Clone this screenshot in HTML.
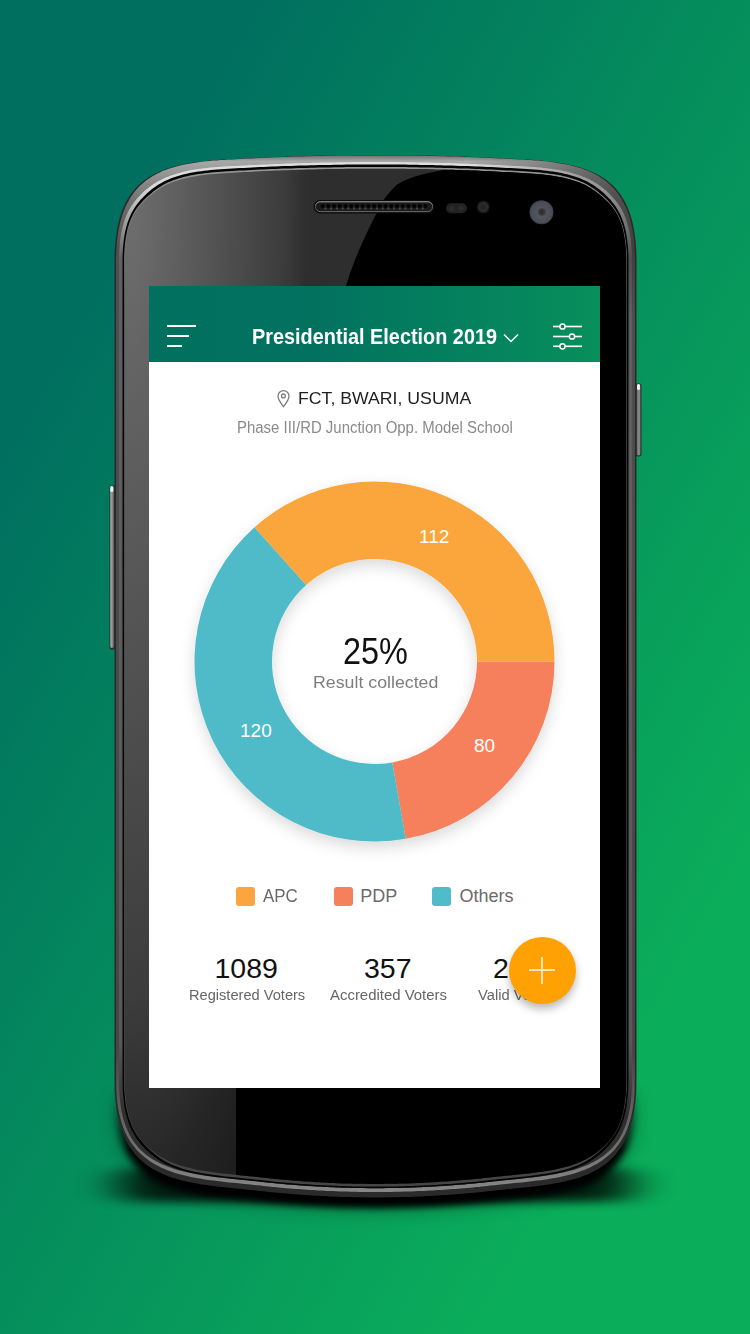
<!DOCTYPE html>
<html>
<head>
<meta charset="utf-8">
<style>
*{margin:0;padding:0;box-sizing:border-box;}
html,body{width:750px;height:1334px;overflow:hidden;}
body{position:relative;background:linear-gradient(to bottom right,#006f5f 17%,#0aad5a 82%);font-family:"Liberation Sans",sans-serif;}
.abs{position:absolute;}
#phone{position:absolute;left:0;top:0;width:750px;height:1334px;}
#screen{position:absolute;left:149px;top:286px;width:451px;height:802px;background:#fff;overflow:hidden;}
#hdr{position:absolute;left:0;top:0;width:451px;height:76px;background:linear-gradient(to right,#01705f 0%,#02725f 38%,#078f5c 100%);}
.t{position:absolute;white-space:nowrap;line-height:1;}
</style>
</head>
<body>
<svg id="phone" width="750" height="1334" viewBox="0 0 750 1334">
  <defs>
    <filter id="sh" x="-20%" y="-20%" width="140%" height="140%"><feGaussianBlur stdDeviation="10"/></filter>
    <filter id="sh3" x="-20%" y="-100%" width="140%" height="300%"><feGaussianBlur stdDeviation="22 5"/></filter>
    <filter id="sh2" x="-20%" y="-20%" width="140%" height="140%"><feGaussianBlur stdDeviation="3.5"/></filter>
    <linearGradient id="g1" gradientUnits="userSpaceOnUse" x1="0" y1="155" x2="0" y2="1198">
      <stop offset="0" stop-color="#6a6a6a"/>
      <stop offset="0.006" stop-color="#a8a8a8"/>
      <stop offset="0.025" stop-color="#8a8a8a"/>
      <stop offset="0.045" stop-color="#707070"/>
      <stop offset="0.09" stop-color="#505050"/>
      <stop offset="0.86" stop-color="#474747"/>
      <stop offset="0.93" stop-color="#666"/>
      <stop offset="1" stop-color="#8a8a8a"/>
    </linearGradient>
    <linearGradient id="g2" gradientUnits="userSpaceOnUse" x1="0" y1="155" x2="0" y2="1198">
      <stop offset="0" stop-color="#e0e0e0"/>
      <stop offset="0.03" stop-color="#dadada"/>
      <stop offset="0.055" stop-color="#b0b0b0"/>
      <stop offset="0.1" stop-color="#606060"/>
      <stop offset="0.85" stop-color="#585858"/>
      <stop offset="0.92" stop-color="#2e2e2e"/>
      <stop offset="1" stop-color="#2e2e2e"/>
    </linearGradient>
    <linearGradient id="g3" gradientUnits="userSpaceOnUse" x1="0" y1="155" x2="0" y2="1198">
      <stop offset="0" stop-color="#9a9a9a"/>
      <stop offset="0.043" stop-color="#8a8a8a"/>
      <stop offset="0.14" stop-color="#5a5a5a"/>
      <stop offset="0.9" stop-color="#4a4a4a"/>
      <stop offset="1" stop-color="#444"/>
    </linearGradient>
    <radialGradient id="glass" gradientUnits="userSpaceOnUse" cx="130" cy="200" r="1100" gradientTransform="matrix(0.1923 0 0 1 105 0)">
      <stop offset="0" stop-color="#6e6e6e"/>
      <stop offset="0.091" stop-color="#686868"/>
      <stop offset="0.473" stop-color="#4e4e4e"/>
      <stop offset="0.727" stop-color="#3c3c3c"/>
      <stop offset="0.896" stop-color="#262626"/>
      <stop offset="1" stop-color="#1e1e1e"/>
    </radialGradient>
    <linearGradient id="spk" x1="0" y1="0" x2="0" y2="1"><stop offset="0" stop-color="#a8a8a8"/><stop offset="0.5" stop-color="#5a5a5a"/><stop offset="1" stop-color="#6a6a6a"/></linearGradient>
    <linearGradient id="shm" gradientUnits="userSpaceOnUse" x1="0" y1="1085" x2="0" y2="1150"><stop offset="0" stop-color="#000"/><stop offset="1" stop-color="#fff"/></linearGradient>
    <mask id="shmask" maskUnits="userSpaceOnUse" x="0" y="0" width="750" height="1334"><rect x="0" y="0" width="750" height="1334" fill="url(#shm)"/></mask>
    <linearGradient id="btnL" x1="0" y1="0" x2="1" y2="0"><stop offset="0" stop-color="#7a7a7a"/><stop offset="0.4" stop-color="#9a9a9a"/><stop offset="1" stop-color="#6a6a6a"/></linearGradient>
    <linearGradient id="btnR" x1="0" y1="0" x2="1" y2="0"><stop offset="0" stop-color="#6a6a6a"/><stop offset="0.6" stop-color="#8e8e8e"/><stop offset="1" stop-color="#6a6a6a"/></linearGradient>
    <linearGradient id="trgrad" gradientUnits="userSpaceOnUse" x1="470" y1="0" x2="640" y2="0"><stop offset="0" stop-color="#000" stop-opacity="0"/><stop offset="1" stop-color="#000" stop-opacity="0.45"/></linearGradient>
    <linearGradient id="trm" gradientUnits="userSpaceOnUse" x1="0" y1="170" x2="0" y2="320"><stop offset="0" stop-color="#fff"/><stop offset="1" stop-color="#000"/></linearGradient>
    <mask id="trmask" maskUnits="userSpaceOnUse" x="0" y="0" width="750" height="1334"><rect x="0" y="0" width="750" height="1334" fill="url(#trm)"/></mask>
    <radialGradient id="cam" cx="0.5" cy="0.55" r="0.55"><stop offset="0" stop-color="#555a62"/><stop offset="1" stop-color="#484c54"/></radialGradient>
    <clipPath id="gclip"><path d="M124.8 262.0 L124.8 258.2 L124.9 254.4 L125.1 250.8 L125.4 247.3 L125.7 244.0 L126.1 240.7 L126.5 237.5 L127.1 234.5 L127.7 231.6 L128.4 228.8 L129.1 226.1 L129.9 223.5 L130.8 221.0 L131.8 218.7 L132.8 216.4 L133.9 214.3 L135.1 212.3 L136.3 210.4 L137.5 208.7 L138.8 207.0 L140.0 205.4 L141.3 203.9 L142.7 202.5 L144.0 201.2 L145.3 199.9 L146.7 198.7 L148.0 197.5 L149.3 196.3 L150.7 195.2 L152.1 194.0 L153.5 192.9 L155.0 191.8 L156.5 190.7 L158.0 189.7 L159.7 188.6 L161.3 187.6 L163.1 186.6 L164.9 185.6 L166.8 184.6 L168.8 183.7 L170.9 182.8 L173.0 182.0 L175.3 181.2 L177.6 180.4 L179.9 179.7 L182.4 179.0 L184.9 178.4 L187.5 177.8 L190.2 177.2 L193.0 176.7 L195.8 176.2 L198.7 175.7 L201.7 175.3 L204.7 174.9 L207.8 174.6 L211.0 174.2 L214.2 173.9 L217.5 173.7 L220.9 173.4 L224.7 173.2 L228.7 172.9 L232.6 172.7 L236.5 172.5 L240.4 172.3 L244.3 172.1 L248.2 171.9 L252.2 171.7 L256.1 171.5 L260.0 171.3 L263.9 171.1 L267.8 171.0 L271.7 170.8 L275.7 170.6 L279.6 170.5 L283.5 170.3 L287.4 170.2 L291.3 170.1 L295.2 169.9 L299.1 169.8 L303.1 169.7 L307.0 169.6 L310.9 169.5 L314.8 169.4 L318.7 169.3 L322.6 169.2 L326.6 169.1 L330.5 169.1 L334.4 169.0 L338.3 168.9 L342.2 168.9 L346.1 168.8 L350.0 168.8 L354.0 168.7 L357.9 168.7 L361.8 168.7 L365.7 168.7 L369.6 168.7 L373.5 168.7 L377.5 168.7 L381.4 168.7 L385.3 168.7 L389.2 168.7 L393.1 168.7 L397.0 168.7 L401.0 168.8 L404.9 168.8 L408.8 168.9 L412.7 168.9 L416.6 169.0 L420.5 169.1 L424.4 169.1 L428.4 169.2 L432.3 169.3 L436.2 169.4 L440.1 169.5 L444.0 169.6 L447.9 169.7 L451.9 169.8 L455.8 169.9 L459.7 170.1 L463.6 170.2 L467.5 170.3 L471.4 170.5 L475.3 170.6 L479.3 170.8 L483.2 171.0 L487.1 171.1 L491.0 171.3 L494.9 171.5 L498.8 171.7 L502.8 171.9 L506.7 172.1 L510.6 172.3 L514.5 172.5 L518.4 172.7 L522.3 172.9 L526.3 173.2 L530.1 173.4 L533.5 173.7 L536.8 173.9 L540.0 174.2 L543.2 174.6 L546.3 174.9 L549.3 175.3 L552.3 175.7 L555.2 176.2 L558.0 176.7 L560.8 177.2 L563.5 177.8 L566.1 178.4 L568.6 179.0 L571.1 179.7 L573.4 180.4 L575.7 181.2 L578.0 182.0 L580.1 182.8 L582.2 183.7 L584.2 184.6 L586.1 185.6 L587.9 186.6 L589.7 187.6 L591.3 188.6 L593.0 189.7 L594.5 190.7 L596.0 191.8 L597.5 192.9 L598.9 194.0 L600.3 195.2 L601.7 196.3 L603.0 197.5 L604.3 198.7 L605.7 199.9 L607.0 201.2 L608.3 202.5 L609.7 203.9 L611.0 205.4 L612.2 207.0 L613.5 208.7 L614.7 210.4 L615.9 212.3 L617.1 214.3 L618.2 216.4 L619.2 218.7 L620.2 221.0 L621.1 223.5 L621.9 226.1 L622.6 228.8 L623.3 231.6 L623.9 234.5 L624.5 237.5 L624.9 240.7 L625.3 244.0 L625.6 247.3 L625.9 250.8 L626.1 254.4 L626.2 258.2 L626.2 262.0 L626.2 671.0 L626.2 1080.0 L626.1 1085.0 L626.0 1089.8 L625.7 1094.5 L625.2 1098.9 L624.7 1103.1 L624.0 1107.2 L623.3 1111.0 L622.4 1114.7 L621.4 1118.2 L620.3 1121.5 L619.1 1124.6 L617.8 1127.5 L616.4 1130.3 L614.9 1132.8 L613.4 1135.2 L611.8 1137.5 L610.2 1139.6 L608.6 1141.5 L606.9 1143.3 L605.2 1145.1 L603.4 1146.7 L601.7 1148.3 L599.9 1149.8 L598.1 1151.3 L596.3 1152.7 L594.3 1154.1 L592.4 1155.4 L590.3 1156.7 L588.2 1158.0 L586.0 1159.2 L583.7 1160.3 L581.4 1161.5 L578.9 1162.5 L576.3 1163.5 L573.7 1164.5 L571.0 1165.4 L568.2 1166.3 L565.3 1167.1 L562.3 1167.8 L559.2 1168.6 L556.1 1169.2 L552.9 1169.9 L549.6 1170.5 L546.3 1171.0 L542.9 1171.5 L539.4 1172.0 L535.9 1172.5 L532.3 1173.0 L528.6 1173.4 L524.9 1173.8 L521.2 1174.2 L517.4 1174.6 L513.5 1175.0 L509.6 1175.4 L505.7 1175.8 L501.7 1176.2 L497.7 1176.6 L493.6 1177.1 L489.5 1177.5 L486.6 1177.8 L483.7 1178.1 L480.8 1178.4 L478.0 1178.7 L475.1 1179.0 L472.2 1179.3 L469.3 1179.6 L466.4 1179.8 L463.5 1180.1 L460.6 1180.3 L457.8 1180.6 L454.9 1180.8 L452.0 1181.0 L449.1 1181.2 L446.2 1181.4 L443.3 1181.6 L440.4 1181.8 L437.6 1182.0 L434.7 1182.2 L431.8 1182.3 L428.9 1182.5 L426.0 1182.6 L423.1 1182.8 L420.2 1182.9 L417.3 1183.0 L414.5 1183.2 L411.6 1183.3 L408.7 1183.4 L405.8 1183.4 L402.9 1183.5 L400.0 1183.6 L397.1 1183.7 L394.3 1183.7 L391.4 1183.8 L388.5 1183.8 L385.6 1183.8 L382.7 1183.9 L379.8 1183.9 L376.9 1183.9 L374.1 1183.9 L371.2 1183.9 L368.3 1183.9 L365.4 1183.8 L362.5 1183.8 L359.6 1183.8 L356.7 1183.7 L353.9 1183.7 L351.0 1183.6 L348.1 1183.5 L345.2 1183.4 L342.3 1183.4 L339.4 1183.3 L336.5 1183.2 L333.7 1183.0 L330.8 1182.9 L327.9 1182.8 L325.0 1182.6 L322.1 1182.5 L319.2 1182.3 L316.3 1182.2 L313.4 1182.0 L310.6 1181.8 L307.7 1181.6 L304.8 1181.4 L301.9 1181.2 L299.0 1181.0 L296.1 1180.8 L293.2 1180.6 L290.4 1180.3 L287.5 1180.1 L284.6 1179.8 L281.7 1179.6 L278.8 1179.3 L275.9 1179.0 L273.0 1178.7 L270.2 1178.4 L267.3 1178.1 L264.4 1177.8 L261.5 1177.5 L257.4 1177.1 L253.3 1176.6 L249.3 1176.2 L245.3 1175.8 L241.4 1175.4 L237.5 1175.0 L233.6 1174.6 L229.8 1174.2 L226.1 1173.8 L222.4 1173.4 L218.7 1173.0 L215.1 1172.5 L211.6 1172.0 L208.1 1171.5 L204.7 1171.0 L201.4 1170.5 L198.1 1169.9 L194.9 1169.2 L191.8 1168.6 L188.7 1167.8 L185.7 1167.1 L182.8 1166.3 L180.0 1165.4 L177.3 1164.5 L174.7 1163.5 L172.1 1162.5 L169.6 1161.5 L167.3 1160.3 L165.0 1159.2 L162.8 1158.0 L160.7 1156.7 L158.6 1155.4 L156.7 1154.1 L154.7 1152.7 L152.9 1151.3 L151.1 1149.8 L149.3 1148.3 L147.6 1146.7 L145.8 1145.1 L144.1 1143.3 L142.4 1141.5 L140.8 1139.6 L139.2 1137.5 L137.6 1135.2 L136.1 1132.8 L134.6 1130.3 L133.2 1127.5 L131.9 1124.6 L130.7 1121.5 L129.6 1118.2 L128.6 1114.7 L127.7 1111.0 L127.0 1107.2 L126.3 1103.1 L125.8 1098.9 L125.3 1094.5 L125.0 1089.8 L124.9 1085.0 L124.8 1080.0 L124.8 671.0Z"/></clipPath>
  </defs>
  <!-- shadow -->
  <g mask="url(#shmask)"><path d="M114.5 262.0 L114.5 258.0 L114.6 254.1 L114.8 250.3 L115.0 246.6 L115.3 243.0 L115.6 239.6 L116.0 236.2 L116.5 232.9 L117.0 229.7 L117.6 226.6 L118.3 223.6 L119.0 220.6 L119.8 217.8 L120.6 215.1 L121.5 212.4 L122.5 209.8 L123.5 207.3 L124.6 204.9 L125.7 202.6 L126.9 200.4 L128.2 198.2 L129.5 196.1 L130.9 194.1 L132.3 192.2 L133.9 190.3 L135.4 188.5 L137.0 186.8 L138.7 185.1 L140.5 183.5 L142.3 182.0 L144.1 180.5 L146.1 179.1 L148.1 177.8 L150.1 176.5 L152.2 175.3 L154.4 174.1 L156.6 173.0 L158.9 172.0 L161.2 171.0 L163.6 170.0 L166.0 169.1 L168.5 168.2 L171.1 167.4 L173.7 166.7 L176.4 166.0 L179.2 165.3 L182.0 164.7 L184.8 164.1 L187.7 163.5 L190.7 163.0 L193.7 162.5 L196.8 162.1 L200.0 161.7 L203.2 161.3 L206.4 160.9 L209.7 160.6 L213.1 160.3 L216.5 160.0 L220.0 159.8 L223.9 159.6 L227.9 159.3 L231.8 159.1 L235.7 158.9 L239.7 158.7 L243.6 158.5 L247.6 158.3 L251.5 158.1 L255.4 157.9 L259.4 157.7 L263.3 157.5 L267.2 157.4 L271.2 157.2 L275.1 157.0 L279.1 156.9 L283.0 156.7 L286.9 156.6 L290.9 156.5 L294.8 156.3 L298.7 156.2 L302.7 156.1 L306.6 156.0 L310.5 155.9 L314.5 155.8 L318.4 155.7 L322.4 155.6 L326.3 155.5 L330.2 155.5 L334.2 155.4 L338.1 155.3 L342.0 155.3 L346.0 155.2 L349.9 155.2 L353.8 155.1 L357.8 155.1 L361.7 155.1 L365.7 155.1 L369.6 155.1 L373.5 155.1 L377.5 155.1 L381.4 155.1 L385.3 155.1 L389.3 155.1 L393.2 155.1 L397.2 155.1 L401.1 155.2 L405.0 155.2 L409.0 155.3 L412.9 155.3 L416.8 155.4 L420.8 155.5 L424.7 155.5 L428.6 155.6 L432.6 155.7 L436.5 155.8 L440.5 155.9 L444.4 156.0 L448.3 156.1 L452.3 156.2 L456.2 156.3 L460.1 156.5 L464.1 156.6 L468.0 156.7 L471.9 156.9 L475.9 157.0 L479.8 157.2 L483.8 157.4 L487.7 157.5 L491.6 157.7 L495.6 157.9 L499.5 158.1 L503.4 158.3 L507.4 158.5 L511.3 158.7 L515.3 158.9 L519.2 159.1 L523.1 159.3 L527.1 159.6 L531.0 159.8 L534.5 160.0 L537.9 160.3 L541.3 160.6 L544.6 160.9 L547.8 161.3 L551.0 161.7 L554.2 162.1 L557.3 162.5 L560.3 163.0 L563.3 163.5 L566.2 164.1 L569.0 164.7 L571.8 165.3 L574.6 166.0 L577.3 166.7 L579.9 167.4 L582.5 168.2 L585.0 169.1 L587.4 170.0 L589.8 171.0 L592.1 172.0 L594.4 173.0 L596.6 174.1 L598.8 175.3 L600.9 176.5 L602.9 177.8 L604.9 179.1 L606.9 180.5 L608.7 182.0 L610.5 183.5 L612.3 185.1 L614.0 186.8 L615.6 188.5 L617.1 190.3 L618.7 192.2 L620.1 194.1 L621.5 196.1 L622.8 198.2 L624.1 200.4 L625.3 202.6 L626.4 204.9 L627.5 207.3 L628.5 209.8 L629.5 212.4 L630.4 215.1 L631.2 217.8 L632.0 220.6 L632.7 223.6 L633.4 226.6 L634.0 229.7 L634.5 232.9 L635.0 236.2 L635.4 239.6 L635.7 243.0 L636.0 246.6 L636.2 250.3 L636.4 254.1 L636.5 258.0 L636.5 262.0 L636.5 671.0 L636.5 1080.0 L636.4 1085.2 L636.3 1090.3 L636.0 1095.2 L635.6 1099.9 L635.1 1104.4 L634.5 1108.8 L633.8 1113.0 L633.0 1117.0 L632.1 1120.9 L631.1 1124.6 L630.0 1128.2 L628.8 1131.6 L627.5 1134.9 L626.1 1138.0 L624.6 1141.0 L623.1 1143.9 L621.4 1146.7 L619.7 1149.3 L617.8 1151.8 L615.9 1154.2 L613.9 1156.4 L611.8 1158.6 L609.7 1160.6 L607.4 1162.5 L605.1 1164.4 L602.7 1166.1 L600.2 1167.8 L597.7 1169.3 L595.1 1170.8 L592.4 1172.1 L589.6 1173.4 L586.8 1174.7 L584.0 1175.8 L581.0 1176.9 L578.0 1177.9 L574.9 1178.8 L571.8 1179.7 L568.6 1180.5 L565.4 1181.3 L562.1 1182.0 L558.7 1182.7 L555.3 1183.3 L551.9 1183.9 L548.4 1184.5 L544.8 1185.0 L541.2 1185.5 L537.6 1186.0 L533.9 1186.5 L530.2 1186.9 L526.4 1187.3 L522.6 1187.7 L518.8 1188.1 L514.9 1188.5 L511.0 1188.9 L507.1 1189.3 L503.1 1189.7 L499.1 1190.1 L495.1 1190.6 L491.0 1191.0 L488.1 1191.3 L485.2 1191.6 L482.2 1191.9 L479.3 1192.2 L476.4 1192.5 L473.5 1192.8 L470.5 1193.1 L467.6 1193.3 L464.7 1193.6 L461.8 1193.8 L458.8 1194.1 L455.9 1194.3 L453.0 1194.5 L450.1 1194.7 L447.1 1194.9 L444.2 1195.1 L441.3 1195.3 L438.4 1195.5 L435.4 1195.7 L432.5 1195.8 L429.6 1196.0 L426.7 1196.1 L423.7 1196.3 L420.8 1196.4 L417.9 1196.5 L415.0 1196.7 L412.1 1196.8 L409.1 1196.9 L406.2 1196.9 L403.3 1197.0 L400.4 1197.1 L397.4 1197.2 L394.5 1197.2 L391.6 1197.3 L388.7 1197.3 L385.7 1197.3 L382.8 1197.4 L379.9 1197.4 L377.0 1197.4 L374.0 1197.4 L371.1 1197.4 L368.2 1197.4 L365.3 1197.3 L362.3 1197.3 L359.4 1197.3 L356.5 1197.2 L353.6 1197.2 L350.6 1197.1 L347.7 1197.0 L344.8 1196.9 L341.9 1196.9 L338.9 1196.8 L336.0 1196.7 L333.1 1196.5 L330.2 1196.4 L327.3 1196.3 L324.3 1196.1 L321.4 1196.0 L318.5 1195.8 L315.6 1195.7 L312.6 1195.5 L309.7 1195.3 L306.8 1195.1 L303.9 1194.9 L300.9 1194.7 L298.0 1194.5 L295.1 1194.3 L292.2 1194.1 L289.2 1193.8 L286.3 1193.6 L283.4 1193.3 L280.5 1193.1 L277.5 1192.8 L274.6 1192.5 L271.7 1192.2 L268.8 1191.9 L265.8 1191.6 L262.9 1191.3 L260.0 1191.0 L255.9 1190.6 L251.9 1190.1 L247.9 1189.7 L243.9 1189.3 L240.0 1188.9 L236.1 1188.5 L232.2 1188.1 L228.4 1187.7 L224.6 1187.3 L220.8 1186.9 L217.1 1186.5 L213.4 1186.0 L209.8 1185.5 L206.2 1185.0 L202.6 1184.5 L199.1 1183.9 L195.7 1183.3 L192.3 1182.7 L188.9 1182.0 L185.6 1181.3 L182.4 1180.5 L179.2 1179.7 L176.1 1178.8 L173.0 1177.9 L170.0 1176.9 L167.0 1175.8 L164.2 1174.7 L161.4 1173.4 L158.6 1172.1 L155.9 1170.8 L153.3 1169.3 L150.8 1167.8 L148.3 1166.1 L145.9 1164.4 L143.6 1162.5 L141.3 1160.6 L139.2 1158.6 L137.1 1156.4 L135.1 1154.2 L133.2 1151.8 L131.3 1149.3 L129.6 1146.7 L127.9 1143.9 L126.4 1141.0 L124.9 1138.0 L123.5 1134.9 L122.2 1131.6 L121.0 1128.2 L119.9 1124.6 L118.9 1120.9 L118.0 1117.0 L117.2 1113.0 L116.5 1108.8 L115.9 1104.4 L115.4 1099.9 L115.0 1095.2 L114.7 1090.3 L114.6 1085.2 L114.5 1080.0 L114.5 671.0Z" fill="#000" opacity="0.5" filter="url(#sh)" transform="translate(0 9)"/>
  <rect x="118" y="1168" width="514" height="34" rx="17" fill="#000" opacity="0.8" filter="url(#sh3)"/>
  <path d="M114.5 262.0 L114.5 258.0 L114.6 254.1 L114.8 250.3 L115.0 246.6 L115.3 243.0 L115.6 239.6 L116.0 236.2 L116.5 232.9 L117.0 229.7 L117.6 226.6 L118.3 223.6 L119.0 220.6 L119.8 217.8 L120.6 215.1 L121.5 212.4 L122.5 209.8 L123.5 207.3 L124.6 204.9 L125.7 202.6 L126.9 200.4 L128.2 198.2 L129.5 196.1 L130.9 194.1 L132.3 192.2 L133.9 190.3 L135.4 188.5 L137.0 186.8 L138.7 185.1 L140.5 183.5 L142.3 182.0 L144.1 180.5 L146.1 179.1 L148.1 177.8 L150.1 176.5 L152.2 175.3 L154.4 174.1 L156.6 173.0 L158.9 172.0 L161.2 171.0 L163.6 170.0 L166.0 169.1 L168.5 168.2 L171.1 167.4 L173.7 166.7 L176.4 166.0 L179.2 165.3 L182.0 164.7 L184.8 164.1 L187.7 163.5 L190.7 163.0 L193.7 162.5 L196.8 162.1 L200.0 161.7 L203.2 161.3 L206.4 160.9 L209.7 160.6 L213.1 160.3 L216.5 160.0 L220.0 159.8 L223.9 159.6 L227.9 159.3 L231.8 159.1 L235.7 158.9 L239.7 158.7 L243.6 158.5 L247.6 158.3 L251.5 158.1 L255.4 157.9 L259.4 157.7 L263.3 157.5 L267.2 157.4 L271.2 157.2 L275.1 157.0 L279.1 156.9 L283.0 156.7 L286.9 156.6 L290.9 156.5 L294.8 156.3 L298.7 156.2 L302.7 156.1 L306.6 156.0 L310.5 155.9 L314.5 155.8 L318.4 155.7 L322.4 155.6 L326.3 155.5 L330.2 155.5 L334.2 155.4 L338.1 155.3 L342.0 155.3 L346.0 155.2 L349.9 155.2 L353.8 155.1 L357.8 155.1 L361.7 155.1 L365.7 155.1 L369.6 155.1 L373.5 155.1 L377.5 155.1 L381.4 155.1 L385.3 155.1 L389.3 155.1 L393.2 155.1 L397.2 155.1 L401.1 155.2 L405.0 155.2 L409.0 155.3 L412.9 155.3 L416.8 155.4 L420.8 155.5 L424.7 155.5 L428.6 155.6 L432.6 155.7 L436.5 155.8 L440.5 155.9 L444.4 156.0 L448.3 156.1 L452.3 156.2 L456.2 156.3 L460.1 156.5 L464.1 156.6 L468.0 156.7 L471.9 156.9 L475.9 157.0 L479.8 157.2 L483.8 157.4 L487.7 157.5 L491.6 157.7 L495.6 157.9 L499.5 158.1 L503.4 158.3 L507.4 158.5 L511.3 158.7 L515.3 158.9 L519.2 159.1 L523.1 159.3 L527.1 159.6 L531.0 159.8 L534.5 160.0 L537.9 160.3 L541.3 160.6 L544.6 160.9 L547.8 161.3 L551.0 161.7 L554.2 162.1 L557.3 162.5 L560.3 163.0 L563.3 163.5 L566.2 164.1 L569.0 164.7 L571.8 165.3 L574.6 166.0 L577.3 166.7 L579.9 167.4 L582.5 168.2 L585.0 169.1 L587.4 170.0 L589.8 171.0 L592.1 172.0 L594.4 173.0 L596.6 174.1 L598.8 175.3 L600.9 176.5 L602.9 177.8 L604.9 179.1 L606.9 180.5 L608.7 182.0 L610.5 183.5 L612.3 185.1 L614.0 186.8 L615.6 188.5 L617.1 190.3 L618.7 192.2 L620.1 194.1 L621.5 196.1 L622.8 198.2 L624.1 200.4 L625.3 202.6 L626.4 204.9 L627.5 207.3 L628.5 209.8 L629.5 212.4 L630.4 215.1 L631.2 217.8 L632.0 220.6 L632.7 223.6 L633.4 226.6 L634.0 229.7 L634.5 232.9 L635.0 236.2 L635.4 239.6 L635.7 243.0 L636.0 246.6 L636.2 250.3 L636.4 254.1 L636.5 258.0 L636.5 262.0 L636.5 671.0 L636.5 1080.0 L636.4 1085.2 L636.3 1090.3 L636.0 1095.2 L635.6 1099.9 L635.1 1104.4 L634.5 1108.8 L633.8 1113.0 L633.0 1117.0 L632.1 1120.9 L631.1 1124.6 L630.0 1128.2 L628.8 1131.6 L627.5 1134.9 L626.1 1138.0 L624.6 1141.0 L623.1 1143.9 L621.4 1146.7 L619.7 1149.3 L617.8 1151.8 L615.9 1154.2 L613.9 1156.4 L611.8 1158.6 L609.7 1160.6 L607.4 1162.5 L605.1 1164.4 L602.7 1166.1 L600.2 1167.8 L597.7 1169.3 L595.1 1170.8 L592.4 1172.1 L589.6 1173.4 L586.8 1174.7 L584.0 1175.8 L581.0 1176.9 L578.0 1177.9 L574.9 1178.8 L571.8 1179.7 L568.6 1180.5 L565.4 1181.3 L562.1 1182.0 L558.7 1182.7 L555.3 1183.3 L551.9 1183.9 L548.4 1184.5 L544.8 1185.0 L541.2 1185.5 L537.6 1186.0 L533.9 1186.5 L530.2 1186.9 L526.4 1187.3 L522.6 1187.7 L518.8 1188.1 L514.9 1188.5 L511.0 1188.9 L507.1 1189.3 L503.1 1189.7 L499.1 1190.1 L495.1 1190.6 L491.0 1191.0 L488.1 1191.3 L485.2 1191.6 L482.2 1191.9 L479.3 1192.2 L476.4 1192.5 L473.5 1192.8 L470.5 1193.1 L467.6 1193.3 L464.7 1193.6 L461.8 1193.8 L458.8 1194.1 L455.9 1194.3 L453.0 1194.5 L450.1 1194.7 L447.1 1194.9 L444.2 1195.1 L441.3 1195.3 L438.4 1195.5 L435.4 1195.7 L432.5 1195.8 L429.6 1196.0 L426.7 1196.1 L423.7 1196.3 L420.8 1196.4 L417.9 1196.5 L415.0 1196.7 L412.1 1196.8 L409.1 1196.9 L406.2 1196.9 L403.3 1197.0 L400.4 1197.1 L397.4 1197.2 L394.5 1197.2 L391.6 1197.3 L388.7 1197.3 L385.7 1197.3 L382.8 1197.4 L379.9 1197.4 L377.0 1197.4 L374.0 1197.4 L371.1 1197.4 L368.2 1197.4 L365.3 1197.3 L362.3 1197.3 L359.4 1197.3 L356.5 1197.2 L353.6 1197.2 L350.6 1197.1 L347.7 1197.0 L344.8 1196.9 L341.9 1196.9 L338.9 1196.8 L336.0 1196.7 L333.1 1196.5 L330.2 1196.4 L327.3 1196.3 L324.3 1196.1 L321.4 1196.0 L318.5 1195.8 L315.6 1195.7 L312.6 1195.5 L309.7 1195.3 L306.8 1195.1 L303.9 1194.9 L300.9 1194.7 L298.0 1194.5 L295.1 1194.3 L292.2 1194.1 L289.2 1193.8 L286.3 1193.6 L283.4 1193.3 L280.5 1193.1 L277.5 1192.8 L274.6 1192.5 L271.7 1192.2 L268.8 1191.9 L265.8 1191.6 L262.9 1191.3 L260.0 1191.0 L255.9 1190.6 L251.9 1190.1 L247.9 1189.7 L243.9 1189.3 L240.0 1188.9 L236.1 1188.5 L232.2 1188.1 L228.4 1187.7 L224.6 1187.3 L220.8 1186.9 L217.1 1186.5 L213.4 1186.0 L209.8 1185.5 L206.2 1185.0 L202.6 1184.5 L199.1 1183.9 L195.7 1183.3 L192.3 1182.7 L188.9 1182.0 L185.6 1181.3 L182.4 1180.5 L179.2 1179.7 L176.1 1178.8 L173.0 1177.9 L170.0 1176.9 L167.0 1175.8 L164.2 1174.7 L161.4 1173.4 L158.6 1172.1 L155.9 1170.8 L153.3 1169.3 L150.8 1167.8 L148.3 1166.1 L145.9 1164.4 L143.6 1162.5 L141.3 1160.6 L139.2 1158.6 L137.1 1156.4 L135.1 1154.2 L133.2 1151.8 L131.3 1149.3 L129.6 1146.7 L127.9 1143.9 L126.4 1141.0 L124.9 1138.0 L123.5 1134.9 L122.2 1131.6 L121.0 1128.2 L119.9 1124.6 L118.9 1120.9 L118.0 1117.0 L117.2 1113.0 L116.5 1108.8 L115.9 1104.4 L115.4 1099.9 L115.0 1095.2 L114.7 1090.3 L114.6 1085.2 L114.5 1080.0 L114.5 671.0Z" fill="#000" opacity="1" filter="url(#sh2)" transform="translate(0 10)"/></g>
  <!-- side buttons -->
  <rect x="109.5" y="485.5" width="6.5" height="164" rx="2.2" fill="#2e2e2e"/>
  <rect x="110" y="486" width="3.8" height="162" rx="1.9" fill="url(#btnL)"/>
  <rect x="110.3" y="486" width="3" height="6" rx="1.5" fill="#e8f4f0"/>
  <rect x="635" y="383.5" width="6.5" height="73" rx="2.2" fill="#2e2e2e"/>
  <rect x="636.7" y="384" width="3.8" height="71.5" rx="1.9" fill="url(#btnR)"/>
  <rect x="637" y="384" width="3" height="6" rx="1.5" fill="#eef4f0"/>
  <path d="M114.5 262.0 L114.5 258.0 L114.6 254.1 L114.8 250.3 L115.0 246.6 L115.3 243.0 L115.6 239.6 L116.0 236.2 L116.5 232.9 L117.0 229.7 L117.6 226.6 L118.3 223.6 L119.0 220.6 L119.8 217.8 L120.6 215.1 L121.5 212.4 L122.5 209.8 L123.5 207.3 L124.6 204.9 L125.7 202.6 L126.9 200.4 L128.2 198.2 L129.5 196.1 L130.9 194.1 L132.3 192.2 L133.9 190.3 L135.4 188.5 L137.0 186.8 L138.7 185.1 L140.5 183.5 L142.3 182.0 L144.1 180.5 L146.1 179.1 L148.1 177.8 L150.1 176.5 L152.2 175.3 L154.4 174.1 L156.6 173.0 L158.9 172.0 L161.2 171.0 L163.6 170.0 L166.0 169.1 L168.5 168.2 L171.1 167.4 L173.7 166.7 L176.4 166.0 L179.2 165.3 L182.0 164.7 L184.8 164.1 L187.7 163.5 L190.7 163.0 L193.7 162.5 L196.8 162.1 L200.0 161.7 L203.2 161.3 L206.4 160.9 L209.7 160.6 L213.1 160.3 L216.5 160.0 L220.0 159.8 L223.9 159.6 L227.9 159.3 L231.8 159.1 L235.7 158.9 L239.7 158.7 L243.6 158.5 L247.6 158.3 L251.5 158.1 L255.4 157.9 L259.4 157.7 L263.3 157.5 L267.2 157.4 L271.2 157.2 L275.1 157.0 L279.1 156.9 L283.0 156.7 L286.9 156.6 L290.9 156.5 L294.8 156.3 L298.7 156.2 L302.7 156.1 L306.6 156.0 L310.5 155.9 L314.5 155.8 L318.4 155.7 L322.4 155.6 L326.3 155.5 L330.2 155.5 L334.2 155.4 L338.1 155.3 L342.0 155.3 L346.0 155.2 L349.9 155.2 L353.8 155.1 L357.8 155.1 L361.7 155.1 L365.7 155.1 L369.6 155.1 L373.5 155.1 L377.5 155.1 L381.4 155.1 L385.3 155.1 L389.3 155.1 L393.2 155.1 L397.2 155.1 L401.1 155.2 L405.0 155.2 L409.0 155.3 L412.9 155.3 L416.8 155.4 L420.8 155.5 L424.7 155.5 L428.6 155.6 L432.6 155.7 L436.5 155.8 L440.5 155.9 L444.4 156.0 L448.3 156.1 L452.3 156.2 L456.2 156.3 L460.1 156.5 L464.1 156.6 L468.0 156.7 L471.9 156.9 L475.9 157.0 L479.8 157.2 L483.8 157.4 L487.7 157.5 L491.6 157.7 L495.6 157.9 L499.5 158.1 L503.4 158.3 L507.4 158.5 L511.3 158.7 L515.3 158.9 L519.2 159.1 L523.1 159.3 L527.1 159.6 L531.0 159.8 L534.5 160.0 L537.9 160.3 L541.3 160.6 L544.6 160.9 L547.8 161.3 L551.0 161.7 L554.2 162.1 L557.3 162.5 L560.3 163.0 L563.3 163.5 L566.2 164.1 L569.0 164.7 L571.8 165.3 L574.6 166.0 L577.3 166.7 L579.9 167.4 L582.5 168.2 L585.0 169.1 L587.4 170.0 L589.8 171.0 L592.1 172.0 L594.4 173.0 L596.6 174.1 L598.8 175.3 L600.9 176.5 L602.9 177.8 L604.9 179.1 L606.9 180.5 L608.7 182.0 L610.5 183.5 L612.3 185.1 L614.0 186.8 L615.6 188.5 L617.1 190.3 L618.7 192.2 L620.1 194.1 L621.5 196.1 L622.8 198.2 L624.1 200.4 L625.3 202.6 L626.4 204.9 L627.5 207.3 L628.5 209.8 L629.5 212.4 L630.4 215.1 L631.2 217.8 L632.0 220.6 L632.7 223.6 L633.4 226.6 L634.0 229.7 L634.5 232.9 L635.0 236.2 L635.4 239.6 L635.7 243.0 L636.0 246.6 L636.2 250.3 L636.4 254.1 L636.5 258.0 L636.5 262.0 L636.5 671.0 L636.5 1080.0 L636.4 1085.2 L636.3 1090.3 L636.0 1095.2 L635.6 1099.9 L635.1 1104.4 L634.5 1108.8 L633.8 1113.0 L633.0 1117.0 L632.1 1120.9 L631.1 1124.6 L630.0 1128.2 L628.8 1131.6 L627.5 1134.9 L626.1 1138.0 L624.6 1141.0 L623.1 1143.9 L621.4 1146.7 L619.7 1149.3 L617.8 1151.8 L615.9 1154.2 L613.9 1156.4 L611.8 1158.6 L609.7 1160.6 L607.4 1162.5 L605.1 1164.4 L602.7 1166.1 L600.2 1167.8 L597.7 1169.3 L595.1 1170.8 L592.4 1172.1 L589.6 1173.4 L586.8 1174.7 L584.0 1175.8 L581.0 1176.9 L578.0 1177.9 L574.9 1178.8 L571.8 1179.7 L568.6 1180.5 L565.4 1181.3 L562.1 1182.0 L558.7 1182.7 L555.3 1183.3 L551.9 1183.9 L548.4 1184.5 L544.8 1185.0 L541.2 1185.5 L537.6 1186.0 L533.9 1186.5 L530.2 1186.9 L526.4 1187.3 L522.6 1187.7 L518.8 1188.1 L514.9 1188.5 L511.0 1188.9 L507.1 1189.3 L503.1 1189.7 L499.1 1190.1 L495.1 1190.6 L491.0 1191.0 L488.1 1191.3 L485.2 1191.6 L482.2 1191.9 L479.3 1192.2 L476.4 1192.5 L473.5 1192.8 L470.5 1193.1 L467.6 1193.3 L464.7 1193.6 L461.8 1193.8 L458.8 1194.1 L455.9 1194.3 L453.0 1194.5 L450.1 1194.7 L447.1 1194.9 L444.2 1195.1 L441.3 1195.3 L438.4 1195.5 L435.4 1195.7 L432.5 1195.8 L429.6 1196.0 L426.7 1196.1 L423.7 1196.3 L420.8 1196.4 L417.9 1196.5 L415.0 1196.7 L412.1 1196.8 L409.1 1196.9 L406.2 1196.9 L403.3 1197.0 L400.4 1197.1 L397.4 1197.2 L394.5 1197.2 L391.6 1197.3 L388.7 1197.3 L385.7 1197.3 L382.8 1197.4 L379.9 1197.4 L377.0 1197.4 L374.0 1197.4 L371.1 1197.4 L368.2 1197.4 L365.3 1197.3 L362.3 1197.3 L359.4 1197.3 L356.5 1197.2 L353.6 1197.2 L350.6 1197.1 L347.7 1197.0 L344.8 1196.9 L341.9 1196.9 L338.9 1196.8 L336.0 1196.7 L333.1 1196.5 L330.2 1196.4 L327.3 1196.3 L324.3 1196.1 L321.4 1196.0 L318.5 1195.8 L315.6 1195.7 L312.6 1195.5 L309.7 1195.3 L306.8 1195.1 L303.9 1194.9 L300.9 1194.7 L298.0 1194.5 L295.1 1194.3 L292.2 1194.1 L289.2 1193.8 L286.3 1193.6 L283.4 1193.3 L280.5 1193.1 L277.5 1192.8 L274.6 1192.5 L271.7 1192.2 L268.8 1191.9 L265.8 1191.6 L262.9 1191.3 L260.0 1191.0 L255.9 1190.6 L251.9 1190.1 L247.9 1189.7 L243.9 1189.3 L240.0 1188.9 L236.1 1188.5 L232.2 1188.1 L228.4 1187.7 L224.6 1187.3 L220.8 1186.9 L217.1 1186.5 L213.4 1186.0 L209.8 1185.5 L206.2 1185.0 L202.6 1184.5 L199.1 1183.9 L195.7 1183.3 L192.3 1182.7 L188.9 1182.0 L185.6 1181.3 L182.4 1180.5 L179.2 1179.7 L176.1 1178.8 L173.0 1177.9 L170.0 1176.9 L167.0 1175.8 L164.2 1174.7 L161.4 1173.4 L158.6 1172.1 L155.9 1170.8 L153.3 1169.3 L150.8 1167.8 L148.3 1166.1 L145.9 1164.4 L143.6 1162.5 L141.3 1160.6 L139.2 1158.6 L137.1 1156.4 L135.1 1154.2 L133.2 1151.8 L131.3 1149.3 L129.6 1146.7 L127.9 1143.9 L126.4 1141.0 L124.9 1138.0 L123.5 1134.9 L122.2 1131.6 L121.0 1128.2 L119.9 1124.6 L118.9 1120.9 L118.0 1117.0 L117.2 1113.0 L116.5 1108.8 L115.9 1104.4 L115.4 1099.9 L115.0 1095.2 L114.7 1090.3 L114.6 1085.2 L114.5 1080.0 L114.5 671.0Z" fill="#2a2a2a"/>
  <path d="M116.1 262.0 L116.1 258.0 L116.2 254.2 L116.4 250.4 L116.6 246.7 L116.9 243.2 L117.2 239.7 L117.6 236.4 L118.1 233.1 L118.6 230.0 L119.2 226.9 L119.9 223.9 L120.6 221.0 L121.4 218.3 L122.2 215.6 L123.1 213.0 L124.0 210.4 L125.0 208.0 L126.1 205.6 L127.2 203.4 L128.4 201.2 L129.6 199.1 L130.9 197.0 L132.2 195.0 L133.6 193.1 L135.0 191.3 L136.5 189.5 L138.1 187.8 L139.7 186.1 L141.4 184.5 L143.1 183.0 L144.9 181.5 L146.7 180.1 L148.7 178.7 L150.6 177.4 L152.7 176.1 L154.8 174.9 L156.9 173.8 L159.2 172.7 L161.5 171.6 L163.8 170.6 L166.2 169.7 L168.7 168.8 L171.3 168.0 L173.9 167.2 L176.5 166.4 L179.3 165.8 L182.1 165.1 L184.9 164.5 L187.8 163.9 L190.8 163.4 L193.8 162.9 L196.9 162.4 L200.0 162.0 L203.2 161.6 L206.4 161.3 L209.8 160.9 L213.1 160.6 L216.5 160.4 L220.0 160.1 L224.0 159.9 L227.9 159.6 L231.8 159.4 L235.8 159.2 L239.7 159.0 L243.6 158.8 L247.6 158.6 L251.5 158.4 L255.4 158.2 L259.4 158.0 L263.3 157.8 L267.3 157.7 L271.2 157.5 L275.1 157.3 L279.1 157.2 L283.0 157.0 L286.9 156.9 L290.9 156.8 L294.8 156.6 L298.7 156.5 L302.7 156.4 L306.6 156.3 L310.6 156.2 L314.5 156.1 L318.4 156.0 L322.4 155.9 L326.3 155.8 L330.2 155.8 L334.2 155.7 L338.1 155.6 L342.0 155.6 L346.0 155.5 L349.9 155.5 L353.9 155.4 L357.8 155.4 L361.7 155.4 L365.7 155.4 L369.6 155.4 L373.5 155.4 L377.5 155.4 L381.4 155.4 L385.3 155.4 L389.3 155.4 L393.2 155.4 L397.1 155.4 L401.1 155.5 L405.0 155.5 L409.0 155.6 L412.9 155.6 L416.8 155.7 L420.8 155.8 L424.7 155.8 L428.6 155.9 L432.6 156.0 L436.5 156.1 L440.4 156.2 L444.4 156.3 L448.3 156.4 L452.3 156.5 L456.2 156.6 L460.1 156.8 L464.1 156.9 L468.0 157.0 L471.9 157.2 L475.9 157.3 L479.8 157.5 L483.7 157.7 L487.7 157.8 L491.6 158.0 L495.6 158.2 L499.5 158.4 L503.4 158.6 L507.4 158.8 L511.3 159.0 L515.2 159.2 L519.2 159.4 L523.1 159.6 L527.0 159.9 L531.0 160.1 L534.5 160.4 L537.9 160.6 L541.2 160.9 L544.6 161.3 L547.8 161.6 L551.0 162.0 L554.1 162.4 L557.2 162.9 L560.2 163.4 L563.2 163.9 L566.1 164.5 L568.9 165.1 L571.7 165.8 L574.5 166.4 L577.1 167.2 L579.7 168.0 L582.3 168.8 L584.8 169.7 L587.2 170.6 L589.5 171.6 L591.8 172.7 L594.1 173.8 L596.2 174.9 L598.3 176.1 L600.4 177.4 L602.3 178.7 L604.3 180.1 L606.1 181.5 L607.9 183.0 L609.6 184.5 L611.3 186.1 L612.9 187.8 L614.5 189.5 L616.0 191.3 L617.4 193.1 L618.8 195.0 L620.1 197.0 L621.4 199.1 L622.6 201.2 L623.8 203.4 L624.9 205.6 L626.0 208.0 L627.0 210.4 L627.9 213.0 L628.8 215.6 L629.6 218.3 L630.4 221.0 L631.1 223.9 L631.8 226.9 L632.4 230.0 L632.9 233.1 L633.4 236.4 L633.8 239.7 L634.1 243.2 L634.4 246.7 L634.6 250.4 L634.8 254.2 L634.9 258.0 L634.9 262.0 L634.9 671.0 L634.9 1080.0 L634.8 1085.2 L634.7 1090.2 L634.4 1095.1 L634.0 1099.7 L633.4 1104.2 L632.8 1108.5 L632.0 1112.6 L631.1 1116.6 L630.1 1120.4 L629.0 1124.0 L627.8 1127.5 L626.5 1130.7 L625.0 1133.9 L623.5 1136.8 L621.9 1139.6 L620.2 1142.3 L618.4 1144.8 L616.6 1147.1 L614.7 1149.4 L612.7 1151.5 L610.7 1153.5 L608.6 1155.3 L606.5 1157.1 L604.3 1158.8 L602.1 1160.4 L599.8 1162.0 L597.5 1163.4 L595.1 1164.8 L592.6 1166.1 L590.1 1167.4 L587.5 1168.6 L584.8 1169.7 L582.0 1170.8 L579.2 1171.8 L576.4 1172.8 L573.4 1173.7 L570.4 1174.5 L567.3 1175.3 L564.2 1176.0 L561.0 1176.7 L557.7 1177.4 L554.4 1178.0 L551.0 1178.6 L547.5 1179.2 L544.0 1179.7 L540.5 1180.2 L536.9 1180.6 L533.3 1181.1 L529.6 1181.5 L525.8 1181.9 L522.0 1182.4 L518.2 1182.8 L514.4 1183.1 L510.5 1183.5 L506.5 1183.9 L502.5 1184.3 L498.5 1184.8 L494.5 1185.2 L490.4 1185.6 L487.5 1185.9 L484.6 1186.3 L481.7 1186.6 L478.8 1186.9 L475.9 1187.1 L473.0 1187.4 L470.0 1187.7 L467.1 1187.9 L464.2 1188.2 L461.3 1188.4 L458.4 1188.7 L455.5 1188.9 L452.6 1189.1 L449.7 1189.3 L446.8 1189.5 L443.9 1189.7 L441.0 1189.9 L438.0 1190.1 L435.1 1190.3 L432.2 1190.4 L429.3 1190.6 L426.4 1190.7 L423.5 1190.9 L420.6 1191.0 L417.7 1191.1 L414.8 1191.3 L411.9 1191.4 L409.0 1191.5 L406.0 1191.5 L403.1 1191.6 L400.2 1191.7 L397.3 1191.8 L394.4 1191.8 L391.5 1191.9 L388.6 1191.9 L385.7 1191.9 L382.8 1192.0 L379.9 1192.0 L377.0 1192.0 L374.0 1192.0 L371.1 1192.0 L368.2 1192.0 L365.3 1191.9 L362.4 1191.9 L359.5 1191.9 L356.6 1191.8 L353.7 1191.8 L350.8 1191.7 L347.9 1191.6 L345.0 1191.5 L342.0 1191.5 L339.1 1191.4 L336.2 1191.3 L333.3 1191.1 L330.4 1191.0 L327.5 1190.9 L324.6 1190.7 L321.7 1190.6 L318.8 1190.4 L315.9 1190.3 L313.0 1190.1 L310.0 1189.9 L307.1 1189.7 L304.2 1189.5 L301.3 1189.3 L298.4 1189.1 L295.5 1188.9 L292.6 1188.7 L289.7 1188.4 L286.8 1188.2 L283.9 1187.9 L281.0 1187.7 L278.0 1187.4 L275.1 1187.1 L272.2 1186.9 L269.3 1186.6 L266.4 1186.3 L263.5 1185.9 L260.6 1185.6 L256.5 1185.2 L252.5 1184.8 L248.5 1184.3 L244.5 1183.9 L240.5 1183.5 L236.6 1183.1 L232.8 1182.8 L229.0 1182.4 L225.2 1181.9 L221.4 1181.5 L217.7 1181.1 L214.1 1180.6 L210.5 1180.2 L207.0 1179.7 L203.5 1179.2 L200.0 1178.6 L196.6 1178.0 L193.3 1177.4 L190.0 1176.7 L186.8 1176.0 L183.7 1175.3 L180.6 1174.5 L177.6 1173.7 L174.6 1172.8 L171.8 1171.8 L169.0 1170.8 L166.2 1169.7 L163.5 1168.6 L160.9 1167.4 L158.4 1166.1 L155.9 1164.8 L153.5 1163.4 L151.2 1162.0 L148.9 1160.4 L146.7 1158.8 L144.5 1157.1 L142.4 1155.3 L140.3 1153.5 L138.3 1151.5 L136.3 1149.4 L134.4 1147.1 L132.6 1144.8 L130.8 1142.3 L129.1 1139.6 L127.5 1136.8 L126.0 1133.9 L124.5 1130.7 L123.2 1127.5 L122.0 1124.0 L120.9 1120.4 L119.9 1116.6 L119.0 1112.6 L118.2 1108.5 L117.6 1104.2 L117.0 1099.7 L116.6 1095.1 L116.3 1090.2 L116.2 1085.2 L116.1 1080.0 L116.1 671.0Z" fill="url(#g1)"/>
  <path d="M119.0 262.0 L119.0 258.1 L119.1 254.3 L119.3 250.5 L119.6 246.9 L119.9 243.4 L120.2 240.1 L120.7 236.8 L121.2 233.6 L121.8 230.5 L122.5 227.6 L123.3 224.7 L124.1 221.9 L125.0 219.3 L125.9 216.8 L127.0 214.3 L128.0 212.0 L129.2 209.8 L130.4 207.7 L131.7 205.7 L133.0 203.7 L134.3 201.9 L135.7 200.2 L137.1 198.5 L138.5 196.9 L140.0 195.4 L141.4 193.9 L142.9 192.5 L144.4 191.1 L146.0 189.8 L147.6 188.5 L149.2 187.2 L150.9 186.0 L152.6 184.8 L154.4 183.6 L156.2 182.5 L158.1 181.3 L160.1 180.3 L162.1 179.2 L164.2 178.2 L166.4 177.3 L168.6 176.4 L170.9 175.5 L173.3 174.7 L175.7 173.9 L178.3 173.2 L180.9 172.5 L183.5 171.8 L186.2 171.2 L189.0 170.6 L191.9 170.1 L194.8 169.6 L197.8 169.1 L200.8 168.7 L204.0 168.3 L207.1 168.0 L210.4 167.6 L213.7 167.3 L217.0 167.1 L220.5 166.8 L224.4 166.6 L228.3 166.3 L232.2 166.1 L236.1 165.9 L240.1 165.7 L244.0 165.5 L247.9 165.3 L251.8 165.1 L255.8 164.9 L259.7 164.7 L263.6 164.5 L267.5 164.4 L271.5 164.2 L275.4 164.0 L279.3 163.9 L283.2 163.7 L287.2 163.6 L291.1 163.5 L295.0 163.3 L298.9 163.2 L302.9 163.1 L306.8 163.0 L310.7 162.9 L314.6 162.8 L318.6 162.7 L322.5 162.6 L326.4 162.5 L330.4 162.5 L334.3 162.4 L338.2 162.3 L342.1 162.3 L346.1 162.2 L350.0 162.2 L353.9 162.1 L357.8 162.1 L361.8 162.1 L365.7 162.1 L369.6 162.1 L373.5 162.1 L377.5 162.1 L381.4 162.1 L385.3 162.1 L389.2 162.1 L393.2 162.1 L397.1 162.1 L401.0 162.2 L404.9 162.2 L408.9 162.3 L412.8 162.3 L416.7 162.4 L420.6 162.5 L424.6 162.5 L428.5 162.6 L432.4 162.7 L436.4 162.8 L440.3 162.9 L444.2 163.0 L448.1 163.1 L452.1 163.2 L456.0 163.3 L459.9 163.5 L463.8 163.6 L467.8 163.7 L471.7 163.9 L475.6 164.0 L479.5 164.2 L483.5 164.4 L487.4 164.5 L491.3 164.7 L495.2 164.9 L499.2 165.1 L503.1 165.3 L507.0 165.5 L510.9 165.7 L514.9 165.9 L518.8 166.1 L522.7 166.3 L526.6 166.6 L530.5 166.8 L534.0 167.1 L537.3 167.3 L540.6 167.6 L543.9 168.0 L547.0 168.3 L550.2 168.7 L553.2 169.1 L556.2 169.6 L559.1 170.1 L562.0 170.6 L564.8 171.2 L567.5 171.8 L570.1 172.5 L572.7 173.2 L575.3 173.9 L577.7 174.7 L580.1 175.5 L582.4 176.4 L584.6 177.3 L586.8 178.2 L588.9 179.2 L590.9 180.3 L592.9 181.3 L594.8 182.5 L596.6 183.6 L598.4 184.8 L600.1 186.0 L601.8 187.2 L603.4 188.5 L605.0 189.8 L606.6 191.1 L608.1 192.5 L609.6 193.9 L611.0 195.4 L612.5 196.9 L613.9 198.5 L615.3 200.2 L616.7 201.9 L618.0 203.7 L619.3 205.7 L620.6 207.7 L621.8 209.8 L623.0 212.0 L624.0 214.3 L625.1 216.8 L626.0 219.3 L626.9 221.9 L627.7 224.7 L628.5 227.6 L629.2 230.5 L629.8 233.6 L630.3 236.8 L630.8 240.1 L631.1 243.4 L631.4 246.9 L631.7 250.5 L631.9 254.3 L632.0 258.1 L632.0 262.0 L632.0 671.0 L632.0 1080.0 L631.9 1085.1 L631.8 1090.1 L631.5 1094.9 L631.1 1099.4 L630.6 1103.8 L629.9 1108.1 L629.2 1112.1 L628.3 1116.0 L627.4 1119.7 L626.3 1123.2 L625.1 1126.6 L623.8 1129.8 L622.5 1132.8 L621.0 1135.7 L619.5 1138.4 L617.8 1140.9 L616.1 1143.3 L614.3 1145.6 L612.5 1147.7 L610.6 1149.7 L608.6 1151.5 L606.6 1153.3 L604.6 1155.0 L602.5 1156.6 L600.3 1158.0 L598.1 1159.5 L595.8 1160.8 L593.5 1162.1 L591.1 1163.3 L588.6 1164.4 L586.1 1165.5 L583.5 1166.6 L580.8 1167.6 L578.1 1168.5 L575.3 1169.4 L572.4 1170.2 L569.4 1171.0 L566.4 1171.8 L563.3 1172.5 L560.2 1173.1 L557.0 1173.8 L553.7 1174.4 L550.4 1174.9 L547.0 1175.5 L543.5 1176.0 L540.0 1176.5 L536.4 1176.9 L532.8 1177.4 L529.1 1177.8 L525.4 1178.2 L521.6 1178.6 L517.8 1179.0 L514.0 1179.4 L510.1 1179.8 L506.1 1180.2 L502.1 1180.6 L498.1 1181.0 L494.1 1181.4 L490.0 1181.9 L487.1 1182.2 L484.2 1182.5 L481.3 1182.8 L478.4 1183.1 L475.5 1183.4 L472.6 1183.7 L469.7 1183.9 L466.8 1184.2 L463.9 1184.4 L461.0 1184.7 L458.1 1184.9 L455.2 1185.1 L452.3 1185.4 L449.4 1185.6 L446.5 1185.8 L443.6 1186.0 L440.7 1186.2 L437.8 1186.3 L434.9 1186.5 L432.0 1186.7 L429.1 1186.8 L426.2 1187.0 L423.3 1187.1 L420.4 1187.2 L417.5 1187.3 L414.6 1187.5 L411.7 1187.6 L408.8 1187.7 L405.9 1187.8 L403.0 1187.8 L400.1 1187.9 L397.2 1188.0 L394.3 1188.0 L391.4 1188.1 L388.5 1188.1 L385.6 1188.2 L382.7 1188.2 L379.8 1188.2 L376.9 1188.2 L374.1 1188.2 L371.2 1188.2 L368.3 1188.2 L365.4 1188.2 L362.5 1188.1 L359.6 1188.1 L356.7 1188.0 L353.8 1188.0 L350.9 1187.9 L348.0 1187.8 L345.1 1187.8 L342.2 1187.7 L339.3 1187.6 L336.4 1187.5 L333.5 1187.3 L330.6 1187.2 L327.7 1187.1 L324.8 1187.0 L321.9 1186.8 L319.0 1186.7 L316.1 1186.5 L313.2 1186.3 L310.3 1186.2 L307.4 1186.0 L304.5 1185.8 L301.6 1185.6 L298.7 1185.4 L295.8 1185.1 L292.9 1184.9 L290.0 1184.7 L287.1 1184.4 L284.2 1184.2 L281.3 1183.9 L278.4 1183.7 L275.5 1183.4 L272.6 1183.1 L269.7 1182.8 L266.8 1182.5 L263.9 1182.2 L261.0 1181.9 L256.9 1181.4 L252.9 1181.0 L248.9 1180.6 L244.9 1180.2 L240.9 1179.8 L237.0 1179.4 L233.2 1179.0 L229.4 1178.6 L225.6 1178.2 L221.9 1177.8 L218.2 1177.4 L214.6 1176.9 L211.0 1176.5 L207.5 1176.0 L204.0 1175.5 L200.6 1174.9 L197.3 1174.4 L194.0 1173.8 L190.8 1173.1 L187.7 1172.5 L184.6 1171.8 L181.6 1171.0 L178.6 1170.2 L175.7 1169.4 L172.9 1168.5 L170.2 1167.6 L167.5 1166.6 L164.9 1165.5 L162.4 1164.4 L159.9 1163.3 L157.5 1162.1 L155.2 1160.8 L152.9 1159.5 L150.7 1158.0 L148.5 1156.6 L146.4 1155.0 L144.4 1153.3 L142.4 1151.5 L140.4 1149.7 L138.5 1147.7 L136.7 1145.6 L134.9 1143.3 L133.2 1140.9 L131.5 1138.4 L130.0 1135.7 L128.5 1132.8 L127.2 1129.8 L125.9 1126.6 L124.7 1123.2 L123.6 1119.7 L122.7 1116.0 L121.8 1112.1 L121.1 1108.1 L120.4 1103.8 L119.9 1099.4 L119.5 1094.9 L119.2 1090.1 L119.1 1085.1 L119.0 1080.0 L119.0 671.0Z" fill="url(#g2)"/>
  <g mask="url(#trmask)"><path d="M116.1 262.0 L116.1 258.0 L116.2 254.2 L116.4 250.4 L116.6 246.7 L116.9 243.2 L117.2 239.7 L117.6 236.4 L118.1 233.1 L118.6 230.0 L119.2 226.9 L119.9 223.9 L120.6 221.0 L121.4 218.3 L122.2 215.6 L123.1 213.0 L124.0 210.4 L125.0 208.0 L126.1 205.6 L127.2 203.4 L128.4 201.2 L129.6 199.1 L130.9 197.0 L132.2 195.0 L133.6 193.1 L135.0 191.3 L136.5 189.5 L138.1 187.8 L139.7 186.1 L141.4 184.5 L143.1 183.0 L144.9 181.5 L146.7 180.1 L148.7 178.7 L150.6 177.4 L152.7 176.1 L154.8 174.9 L156.9 173.8 L159.2 172.7 L161.5 171.6 L163.8 170.6 L166.2 169.7 L168.7 168.8 L171.3 168.0 L173.9 167.2 L176.5 166.4 L179.3 165.8 L182.1 165.1 L184.9 164.5 L187.8 163.9 L190.8 163.4 L193.8 162.9 L196.9 162.4 L200.0 162.0 L203.2 161.6 L206.4 161.3 L209.8 160.9 L213.1 160.6 L216.5 160.4 L220.0 160.1 L224.0 159.9 L227.9 159.6 L231.8 159.4 L235.8 159.2 L239.7 159.0 L243.6 158.8 L247.6 158.6 L251.5 158.4 L255.4 158.2 L259.4 158.0 L263.3 157.8 L267.3 157.7 L271.2 157.5 L275.1 157.3 L279.1 157.2 L283.0 157.0 L286.9 156.9 L290.9 156.8 L294.8 156.6 L298.7 156.5 L302.7 156.4 L306.6 156.3 L310.6 156.2 L314.5 156.1 L318.4 156.0 L322.4 155.9 L326.3 155.8 L330.2 155.8 L334.2 155.7 L338.1 155.6 L342.0 155.6 L346.0 155.5 L349.9 155.5 L353.9 155.4 L357.8 155.4 L361.7 155.4 L365.7 155.4 L369.6 155.4 L373.5 155.4 L377.5 155.4 L381.4 155.4 L385.3 155.4 L389.3 155.4 L393.2 155.4 L397.1 155.4 L401.1 155.5 L405.0 155.5 L409.0 155.6 L412.9 155.6 L416.8 155.7 L420.8 155.8 L424.7 155.8 L428.6 155.9 L432.6 156.0 L436.5 156.1 L440.4 156.2 L444.4 156.3 L448.3 156.4 L452.3 156.5 L456.2 156.6 L460.1 156.8 L464.1 156.9 L468.0 157.0 L471.9 157.2 L475.9 157.3 L479.8 157.5 L483.7 157.7 L487.7 157.8 L491.6 158.0 L495.6 158.2 L499.5 158.4 L503.4 158.6 L507.4 158.8 L511.3 159.0 L515.2 159.2 L519.2 159.4 L523.1 159.6 L527.0 159.9 L531.0 160.1 L534.5 160.4 L537.9 160.6 L541.2 160.9 L544.6 161.3 L547.8 161.6 L551.0 162.0 L554.1 162.4 L557.2 162.9 L560.2 163.4 L563.2 163.9 L566.1 164.5 L568.9 165.1 L571.7 165.8 L574.5 166.4 L577.1 167.2 L579.7 168.0 L582.3 168.8 L584.8 169.7 L587.2 170.6 L589.5 171.6 L591.8 172.7 L594.1 173.8 L596.2 174.9 L598.3 176.1 L600.4 177.4 L602.3 178.7 L604.3 180.1 L606.1 181.5 L607.9 183.0 L609.6 184.5 L611.3 186.1 L612.9 187.8 L614.5 189.5 L616.0 191.3 L617.4 193.1 L618.8 195.0 L620.1 197.0 L621.4 199.1 L622.6 201.2 L623.8 203.4 L624.9 205.6 L626.0 208.0 L627.0 210.4 L627.9 213.0 L628.8 215.6 L629.6 218.3 L630.4 221.0 L631.1 223.9 L631.8 226.9 L632.4 230.0 L632.9 233.1 L633.4 236.4 L633.8 239.7 L634.1 243.2 L634.4 246.7 L634.6 250.4 L634.8 254.2 L634.9 258.0 L634.9 262.0 L634.9 671.0 L634.9 1080.0 L634.8 1085.2 L634.7 1090.2 L634.4 1095.1 L634.0 1099.7 L633.4 1104.2 L632.8 1108.5 L632.0 1112.6 L631.1 1116.6 L630.1 1120.4 L629.0 1124.0 L627.8 1127.5 L626.5 1130.7 L625.0 1133.9 L623.5 1136.8 L621.9 1139.6 L620.2 1142.3 L618.4 1144.8 L616.6 1147.1 L614.7 1149.4 L612.7 1151.5 L610.7 1153.5 L608.6 1155.3 L606.5 1157.1 L604.3 1158.8 L602.1 1160.4 L599.8 1162.0 L597.5 1163.4 L595.1 1164.8 L592.6 1166.1 L590.1 1167.4 L587.5 1168.6 L584.8 1169.7 L582.0 1170.8 L579.2 1171.8 L576.4 1172.8 L573.4 1173.7 L570.4 1174.5 L567.3 1175.3 L564.2 1176.0 L561.0 1176.7 L557.7 1177.4 L554.4 1178.0 L551.0 1178.6 L547.5 1179.2 L544.0 1179.7 L540.5 1180.2 L536.9 1180.6 L533.3 1181.1 L529.6 1181.5 L525.8 1181.9 L522.0 1182.4 L518.2 1182.8 L514.4 1183.1 L510.5 1183.5 L506.5 1183.9 L502.5 1184.3 L498.5 1184.8 L494.5 1185.2 L490.4 1185.6 L487.5 1185.9 L484.6 1186.3 L481.7 1186.6 L478.8 1186.9 L475.9 1187.1 L473.0 1187.4 L470.0 1187.7 L467.1 1187.9 L464.2 1188.2 L461.3 1188.4 L458.4 1188.7 L455.5 1188.9 L452.6 1189.1 L449.7 1189.3 L446.8 1189.5 L443.9 1189.7 L441.0 1189.9 L438.0 1190.1 L435.1 1190.3 L432.2 1190.4 L429.3 1190.6 L426.4 1190.7 L423.5 1190.9 L420.6 1191.0 L417.7 1191.1 L414.8 1191.3 L411.9 1191.4 L409.0 1191.5 L406.0 1191.5 L403.1 1191.6 L400.2 1191.7 L397.3 1191.8 L394.4 1191.8 L391.5 1191.9 L388.6 1191.9 L385.7 1191.9 L382.8 1192.0 L379.9 1192.0 L377.0 1192.0 L374.0 1192.0 L371.1 1192.0 L368.2 1192.0 L365.3 1191.9 L362.4 1191.9 L359.5 1191.9 L356.6 1191.8 L353.7 1191.8 L350.8 1191.7 L347.9 1191.6 L345.0 1191.5 L342.0 1191.5 L339.1 1191.4 L336.2 1191.3 L333.3 1191.1 L330.4 1191.0 L327.5 1190.9 L324.6 1190.7 L321.7 1190.6 L318.8 1190.4 L315.9 1190.3 L313.0 1190.1 L310.0 1189.9 L307.1 1189.7 L304.2 1189.5 L301.3 1189.3 L298.4 1189.1 L295.5 1188.9 L292.6 1188.7 L289.7 1188.4 L286.8 1188.2 L283.9 1187.9 L281.0 1187.7 L278.0 1187.4 L275.1 1187.1 L272.2 1186.9 L269.3 1186.6 L266.4 1186.3 L263.5 1185.9 L260.6 1185.6 L256.5 1185.2 L252.5 1184.8 L248.5 1184.3 L244.5 1183.9 L240.5 1183.5 L236.6 1183.1 L232.8 1182.8 L229.0 1182.4 L225.2 1181.9 L221.4 1181.5 L217.7 1181.1 L214.1 1180.6 L210.5 1180.2 L207.0 1179.7 L203.5 1179.2 L200.0 1178.6 L196.6 1178.0 L193.3 1177.4 L190.0 1176.7 L186.8 1176.0 L183.7 1175.3 L180.6 1174.5 L177.6 1173.7 L174.6 1172.8 L171.8 1171.8 L169.0 1170.8 L166.2 1169.7 L163.5 1168.6 L160.9 1167.4 L158.4 1166.1 L155.9 1164.8 L153.5 1163.4 L151.2 1162.0 L148.9 1160.4 L146.7 1158.8 L144.5 1157.1 L142.4 1155.3 L140.3 1153.5 L138.3 1151.5 L136.3 1149.4 L134.4 1147.1 L132.6 1144.8 L130.8 1142.3 L129.1 1139.6 L127.5 1136.8 L126.0 1133.9 L124.5 1130.7 L123.2 1127.5 L122.0 1124.0 L120.9 1120.4 L119.9 1116.6 L119.0 1112.6 L118.2 1108.5 L117.6 1104.2 L117.0 1099.7 L116.6 1095.1 L116.3 1090.2 L116.2 1085.2 L116.1 1080.0 L116.1 671.0Z" fill="url(#trgrad)"/></g>
  <path d="M122.5 262.0 L122.5 258.1 L122.6 254.4 L122.8 250.7 L123.0 247.2 L123.4 243.8 L123.7 240.4 L124.2 237.2 L124.7 234.1 L125.3 231.1 L126.0 228.3 L126.7 225.5 L127.5 222.8 L128.4 220.3 L129.3 217.9 L130.3 215.5 L131.4 213.3 L132.5 211.2 L133.7 209.2 L134.9 207.3 L136.1 205.5 L137.4 203.8 L138.7 202.2 L140.0 200.6 L141.3 199.1 L142.7 197.7 L144.0 196.3 L145.4 194.9 L146.8 193.6 L148.2 192.3 L149.7 191.1 L151.2 189.8 L152.7 188.6 L154.3 187.4 L156.0 186.2 L157.7 185.1 L159.5 184.0 L161.3 182.9 L163.3 181.8 L165.3 180.8 L167.3 179.9 L169.5 178.9 L171.7 178.0 L174.1 177.2 L176.4 176.4 L178.9 175.7 L181.4 175.0 L184.0 174.3 L186.7 173.7 L189.5 173.1 L192.3 172.6 L195.2 172.0 L198.1 171.6 L201.2 171.2 L204.2 170.8 L207.4 170.4 L210.6 170.1 L213.9 169.8 L217.2 169.5 L220.6 169.2 L224.5 169.0 L228.4 168.8 L232.3 168.5 L236.3 168.3 L240.2 168.1 L244.1 167.9 L248.0 167.7 L252.0 167.5 L255.9 167.3 L259.8 167.1 L263.7 166.9 L267.6 166.8 L271.6 166.6 L275.5 166.4 L279.4 166.3 L283.3 166.1 L287.3 166.0 L291.2 165.9 L295.1 165.7 L299.0 165.6 L302.9 165.5 L306.9 165.4 L310.8 165.3 L314.7 165.2 L318.6 165.1 L322.6 165.0 L326.5 164.9 L330.4 164.9 L334.3 164.8 L338.2 164.7 L342.2 164.7 L346.1 164.6 L350.0 164.6 L353.9 164.5 L357.9 164.5 L361.8 164.5 L365.7 164.5 L369.6 164.5 L373.5 164.5 L377.5 164.5 L381.4 164.5 L385.3 164.5 L389.2 164.5 L393.1 164.5 L397.1 164.5 L401.0 164.6 L404.9 164.6 L408.8 164.7 L412.8 164.7 L416.7 164.8 L420.6 164.9 L424.5 164.9 L428.4 165.0 L432.4 165.1 L436.3 165.2 L440.2 165.3 L444.1 165.4 L448.1 165.5 L452.0 165.6 L455.9 165.7 L459.8 165.9 L463.7 166.0 L467.7 166.1 L471.6 166.3 L475.5 166.4 L479.4 166.6 L483.4 166.8 L487.3 166.9 L491.2 167.1 L495.1 167.3 L499.0 167.5 L503.0 167.7 L506.9 167.9 L510.8 168.1 L514.7 168.3 L518.7 168.5 L522.6 168.8 L526.5 169.0 L530.4 169.2 L533.8 169.5 L537.1 169.8 L540.4 170.1 L543.6 170.4 L546.8 170.8 L549.8 171.2 L552.9 171.6 L555.8 172.0 L558.7 172.6 L561.5 173.1 L564.3 173.7 L567.0 174.3 L569.6 175.0 L572.1 175.7 L574.6 176.4 L576.9 177.2 L579.3 178.0 L581.5 178.9 L583.7 179.9 L585.7 180.8 L587.7 181.8 L589.7 182.9 L591.5 184.0 L593.3 185.1 L595.0 186.2 L596.7 187.4 L598.3 188.6 L599.8 189.8 L601.3 191.1 L602.8 192.3 L604.2 193.6 L605.6 194.9 L607.0 196.3 L608.3 197.7 L609.7 199.1 L611.0 200.6 L612.3 202.2 L613.6 203.8 L614.9 205.5 L616.1 207.3 L617.3 209.2 L618.5 211.2 L619.6 213.3 L620.7 215.5 L621.7 217.9 L622.6 220.3 L623.5 222.8 L624.3 225.5 L625.0 228.3 L625.7 231.1 L626.3 234.1 L626.8 237.2 L627.3 240.4 L627.6 243.8 L628.0 247.2 L628.2 250.7 L628.4 254.4 L628.5 258.1 L628.5 262.0 L628.5 671.0 L628.5 1080.0 L628.4 1085.1 L628.3 1089.9 L628.0 1094.6 L627.5 1099.1 L627.0 1103.4 L626.4 1107.5 L625.6 1111.5 L624.7 1115.2 L623.7 1118.8 L622.6 1122.2 L621.5 1125.4 L620.2 1128.4 L618.8 1131.3 L617.3 1133.9 L615.8 1136.5 L614.3 1138.9 L612.6 1141.1 L611.0 1143.2 L609.3 1145.2 L607.6 1147.1 L605.8 1148.9 L604.0 1150.7 L602.2 1152.3 L600.3 1154.0 L598.4 1155.5 L596.4 1157.1 L594.4 1158.6 L592.3 1160.0 L590.0 1161.4 L587.7 1162.7 L585.4 1164.0 L582.9 1165.2 L580.3 1166.3 L577.7 1167.4 L575.0 1168.4 L572.1 1169.4 L569.2 1170.3 L566.3 1171.1 L563.2 1171.9 L560.1 1172.7 L556.9 1173.4 L553.6 1174.0 L550.3 1174.6 L546.9 1175.2 L543.5 1175.8 L540.0 1176.3 L536.4 1176.7 L532.8 1177.2 L529.1 1177.6 L525.4 1178.1 L521.6 1178.5 L517.8 1178.9 L514.0 1179.3 L510.1 1179.7 L506.1 1180.1 L502.1 1180.5 L498.1 1180.9 L494.1 1181.3 L490.0 1181.8 L487.1 1182.1 L484.2 1182.4 L481.3 1182.7 L478.4 1183.0 L475.5 1183.3 L472.6 1183.6 L469.7 1183.8 L466.8 1184.1 L463.9 1184.4 L461.0 1184.6 L458.1 1184.8 L455.2 1185.1 L452.3 1185.3 L449.4 1185.5 L446.5 1185.7 L443.6 1185.9 L440.7 1186.1 L437.8 1186.3 L434.9 1186.5 L432.0 1186.6 L429.1 1186.8 L426.2 1186.9 L423.3 1187.1 L420.4 1187.2 L417.5 1187.3 L414.6 1187.4 L411.7 1187.6 L408.8 1187.7 L405.9 1187.7 L403.0 1187.8 L400.1 1187.9 L397.2 1188.0 L394.3 1188.0 L391.4 1188.1 L388.5 1188.1 L385.6 1188.1 L382.7 1188.2 L379.8 1188.2 L376.9 1188.2 L374.1 1188.2 L371.2 1188.2 L368.3 1188.2 L365.4 1188.1 L362.5 1188.1 L359.6 1188.1 L356.7 1188.0 L353.8 1188.0 L350.9 1187.9 L348.0 1187.8 L345.1 1187.7 L342.2 1187.7 L339.3 1187.6 L336.4 1187.4 L333.5 1187.3 L330.6 1187.2 L327.7 1187.1 L324.8 1186.9 L321.9 1186.8 L319.0 1186.6 L316.1 1186.5 L313.2 1186.3 L310.3 1186.1 L307.4 1185.9 L304.5 1185.7 L301.6 1185.5 L298.7 1185.3 L295.8 1185.1 L292.9 1184.8 L290.0 1184.6 L287.1 1184.4 L284.2 1184.1 L281.3 1183.8 L278.4 1183.6 L275.5 1183.3 L272.6 1183.0 L269.7 1182.7 L266.8 1182.4 L263.9 1182.1 L261.0 1181.8 L256.9 1181.3 L252.9 1180.9 L248.9 1180.5 L244.9 1180.1 L240.9 1179.7 L237.0 1179.3 L233.2 1178.9 L229.4 1178.5 L225.6 1178.1 L221.9 1177.6 L218.2 1177.2 L214.6 1176.7 L211.0 1176.3 L207.5 1175.8 L204.1 1175.2 L200.7 1174.6 L197.4 1174.0 L194.1 1173.4 L190.9 1172.7 L187.8 1171.9 L184.7 1171.1 L181.8 1170.3 L178.9 1169.4 L176.0 1168.4 L173.3 1167.4 L170.7 1166.3 L168.1 1165.2 L165.6 1164.0 L163.3 1162.7 L161.0 1161.4 L158.7 1160.0 L156.6 1158.6 L154.6 1157.1 L152.6 1155.5 L150.7 1154.0 L148.8 1152.3 L147.0 1150.7 L145.2 1148.9 L143.4 1147.1 L141.7 1145.2 L140.0 1143.2 L138.4 1141.1 L136.7 1138.9 L135.2 1136.5 L133.7 1133.9 L132.2 1131.3 L130.8 1128.4 L129.5 1125.4 L128.4 1122.2 L127.3 1118.8 L126.3 1115.2 L125.4 1111.5 L124.6 1107.5 L124.0 1103.4 L123.5 1099.1 L123.0 1094.6 L122.7 1089.9 L122.6 1085.1 L122.5 1080.0 L122.5 671.0Z" fill="#050505"/>
  <path d="M124.1 262.0 L124.1 258.2 L124.2 254.4 L124.4 250.8 L124.7 247.3 L125.0 243.9 L125.4 240.6 L125.8 237.4 L126.4 234.4 L127.0 231.4 L127.7 228.6 L128.4 225.9 L129.3 223.3 L130.2 220.8 L131.1 218.4 L132.2 216.2 L133.2 214.0 L134.4 212.0 L135.6 210.1 L136.8 208.3 L138.1 206.6 L139.3 205.0 L140.7 203.5 L142.0 202.0 L143.3 200.6 L144.6 199.3 L145.9 198.0 L147.3 196.8 L148.6 195.6 L150.0 194.4 L151.4 193.2 L152.8 192.0 L154.3 190.8 L155.8 189.7 L157.4 188.6 L159.0 187.5 L160.7 186.4 L162.5 185.3 L164.4 184.3 L166.3 183.3 L168.3 182.3 L170.4 181.4 L172.6 180.5 L174.8 179.7 L177.1 178.9 L179.5 178.2 L182.0 177.5 L184.6 176.8 L187.2 176.2 L189.9 175.6 L192.7 175.1 L195.6 174.6 L198.5 174.1 L201.5 173.7 L204.5 173.3 L207.6 172.9 L210.8 172.6 L214.1 172.3 L217.4 172.0 L220.8 171.7 L224.6 171.5 L228.6 171.3 L232.5 171.0 L236.4 170.8 L240.3 170.6 L244.2 170.4 L248.2 170.2 L252.1 170.0 L256.0 169.8 L259.9 169.6 L263.8 169.4 L267.7 169.3 L271.7 169.1 L275.6 168.9 L279.5 168.8 L283.4 168.6 L287.3 168.5 L291.3 168.4 L295.2 168.2 L299.1 168.1 L303.0 168.0 L306.9 167.9 L310.8 167.8 L314.8 167.7 L318.7 167.6 L322.6 167.5 L326.5 167.4 L330.4 167.4 L334.4 167.3 L338.3 167.2 L342.2 167.2 L346.1 167.1 L350.0 167.1 L353.9 167.0 L357.9 167.0 L361.8 167.0 L365.7 167.0 L369.6 167.0 L373.5 167.0 L377.5 167.0 L381.4 167.0 L385.3 167.0 L389.2 167.0 L393.1 167.0 L397.1 167.0 L401.0 167.1 L404.9 167.1 L408.8 167.2 L412.7 167.2 L416.6 167.3 L420.6 167.4 L424.5 167.4 L428.4 167.5 L432.3 167.6 L436.2 167.7 L440.2 167.8 L444.1 167.9 L448.0 168.0 L451.9 168.1 L455.8 168.2 L459.7 168.4 L463.7 168.5 L467.6 168.6 L471.5 168.8 L475.4 168.9 L479.3 169.1 L483.3 169.3 L487.2 169.4 L491.1 169.6 L495.0 169.8 L498.9 170.0 L502.8 170.2 L506.8 170.4 L510.7 170.6 L514.6 170.8 L518.5 171.0 L522.4 171.3 L526.4 171.5 L530.2 171.7 L533.6 172.0 L536.9 172.3 L540.2 172.6 L543.4 172.9 L546.5 173.3 L549.5 173.7 L552.5 174.1 L555.4 174.6 L558.3 175.1 L561.1 175.6 L563.8 176.2 L566.4 176.8 L569.0 177.5 L571.5 178.2 L573.9 178.9 L576.2 179.7 L578.4 180.5 L580.6 181.4 L582.7 182.3 L584.7 183.3 L586.6 184.3 L588.5 185.3 L590.3 186.4 L592.0 187.5 L593.6 188.6 L595.2 189.7 L596.7 190.8 L598.2 192.0 L599.6 193.2 L601.0 194.4 L602.4 195.6 L603.7 196.8 L605.1 198.0 L606.4 199.3 L607.7 200.6 L609.0 202.0 L610.3 203.5 L611.7 205.0 L612.9 206.6 L614.2 208.3 L615.4 210.1 L616.6 212.0 L617.8 214.0 L618.8 216.2 L619.9 218.4 L620.8 220.8 L621.7 223.3 L622.6 225.9 L623.3 228.6 L624.0 231.4 L624.6 234.4 L625.2 237.4 L625.6 240.6 L626.0 243.9 L626.3 247.3 L626.6 250.8 L626.8 254.4 L626.9 258.2 L626.9 262.0 L626.9 671.0 L626.9 1080.0 L626.8 1085.0 L626.7 1089.9 L626.3 1094.5 L625.9 1098.9 L625.4 1103.2 L624.7 1107.3 L623.9 1111.1 L623.0 1114.8 L622.0 1118.3 L620.8 1121.6 L619.6 1124.8 L618.3 1127.7 L616.8 1130.4 L615.4 1133.0 L613.8 1135.4 L612.2 1137.7 L610.6 1139.8 L608.9 1141.8 L607.3 1143.7 L605.6 1145.4 L603.9 1147.2 L602.2 1148.8 L600.5 1150.4 L598.7 1152.0 L596.9 1153.5 L595.0 1155.0 L593.1 1156.5 L591.1 1157.9 L589.0 1159.3 L586.8 1160.7 L584.5 1162.0 L582.1 1163.2 L579.6 1164.4 L577.0 1165.5 L574.4 1166.6 L571.6 1167.6 L568.8 1168.5 L565.8 1169.4 L562.8 1170.2 L559.7 1171.0 L556.6 1171.7 L553.3 1172.3 L550.0 1173.0 L546.7 1173.5 L543.2 1174.1 L539.8 1174.6 L536.2 1175.1 L532.6 1175.6 L528.9 1176.0 L525.2 1176.4 L521.5 1176.8 L517.7 1177.2 L513.8 1177.6 L509.9 1178.0 L506.0 1178.4 L502.0 1178.8 L497.9 1179.3 L493.9 1179.7 L489.8 1180.1 L486.9 1180.4 L484.0 1180.8 L481.1 1181.1 L478.2 1181.4 L475.3 1181.7 L472.4 1181.9 L469.5 1182.2 L466.6 1182.5 L463.8 1182.7 L460.9 1183.0 L458.0 1183.2 L455.1 1183.5 L452.2 1183.7 L449.3 1183.9 L446.4 1184.1 L443.5 1184.3 L440.6 1184.5 L437.7 1184.7 L434.8 1184.9 L431.9 1185.0 L429.0 1185.2 L426.1 1185.3 L423.2 1185.5 L420.4 1185.6 L417.5 1185.7 L414.6 1185.8 L411.7 1186.0 L408.8 1186.0 L405.9 1186.1 L403.0 1186.2 L400.1 1186.3 L397.2 1186.4 L394.3 1186.4 L391.4 1186.5 L388.5 1186.5 L385.6 1186.5 L382.7 1186.6 L379.8 1186.6 L376.9 1186.6 L374.1 1186.6 L371.2 1186.6 L368.3 1186.6 L365.4 1186.5 L362.5 1186.5 L359.6 1186.5 L356.7 1186.4 L353.8 1186.4 L350.9 1186.3 L348.0 1186.2 L345.1 1186.1 L342.2 1186.0 L339.3 1186.0 L336.4 1185.8 L333.5 1185.7 L330.6 1185.6 L327.8 1185.5 L324.9 1185.3 L322.0 1185.2 L319.1 1185.0 L316.2 1184.9 L313.3 1184.7 L310.4 1184.5 L307.5 1184.3 L304.6 1184.1 L301.7 1183.9 L298.8 1183.7 L295.9 1183.5 L293.0 1183.2 L290.1 1183.0 L287.2 1182.7 L284.4 1182.5 L281.5 1182.2 L278.6 1181.9 L275.7 1181.7 L272.8 1181.4 L269.9 1181.1 L267.0 1180.8 L264.1 1180.4 L261.2 1180.1 L257.1 1179.7 L253.1 1179.3 L249.0 1178.8 L245.0 1178.4 L241.1 1178.0 L237.2 1177.6 L233.3 1177.2 L229.5 1176.8 L225.8 1176.4 L222.1 1176.0 L218.4 1175.6 L214.8 1175.1 L211.2 1174.6 L207.8 1174.1 L204.3 1173.5 L201.0 1173.0 L197.7 1172.3 L194.4 1171.7 L191.3 1171.0 L188.2 1170.2 L185.2 1169.4 L182.2 1168.5 L179.4 1167.6 L176.6 1166.6 L174.0 1165.5 L171.4 1164.4 L168.9 1163.2 L166.5 1162.0 L164.2 1160.7 L162.0 1159.3 L159.9 1157.9 L157.9 1156.5 L156.0 1155.0 L154.1 1153.5 L152.3 1152.0 L150.5 1150.4 L148.8 1148.8 L147.1 1147.2 L145.4 1145.4 L143.7 1143.7 L142.1 1141.8 L140.4 1139.8 L138.8 1137.7 L137.2 1135.4 L135.6 1133.0 L134.2 1130.4 L132.7 1127.7 L131.4 1124.8 L130.2 1121.6 L129.0 1118.3 L128.0 1114.8 L127.1 1111.1 L126.3 1107.3 L125.6 1103.2 L125.1 1098.9 L124.7 1094.5 L124.3 1089.9 L124.2 1085.0 L124.1 1080.0 L124.1 671.0Z" fill="url(#g3)"/>
  <path d="M124.8 262.0 L124.8 258.2 L124.9 254.4 L125.1 250.8 L125.4 247.3 L125.7 244.0 L126.1 240.7 L126.5 237.5 L127.1 234.5 L127.7 231.6 L128.4 228.8 L129.1 226.1 L129.9 223.5 L130.8 221.0 L131.8 218.7 L132.8 216.4 L133.9 214.3 L135.1 212.3 L136.3 210.4 L137.5 208.7 L138.8 207.0 L140.0 205.4 L141.3 203.9 L142.7 202.5 L144.0 201.2 L145.3 199.9 L146.7 198.7 L148.0 197.5 L149.3 196.3 L150.7 195.2 L152.1 194.0 L153.5 192.9 L155.0 191.8 L156.5 190.7 L158.0 189.7 L159.7 188.6 L161.3 187.6 L163.1 186.6 L164.9 185.6 L166.8 184.6 L168.8 183.7 L170.9 182.8 L173.0 182.0 L175.3 181.2 L177.6 180.4 L179.9 179.7 L182.4 179.0 L184.9 178.4 L187.5 177.8 L190.2 177.2 L193.0 176.7 L195.8 176.2 L198.7 175.7 L201.7 175.3 L204.7 174.9 L207.8 174.6 L211.0 174.2 L214.2 173.9 L217.5 173.7 L220.9 173.4 L224.7 173.2 L228.7 172.9 L232.6 172.7 L236.5 172.5 L240.4 172.3 L244.3 172.1 L248.2 171.9 L252.2 171.7 L256.1 171.5 L260.0 171.3 L263.9 171.1 L267.8 171.0 L271.7 170.8 L275.7 170.6 L279.6 170.5 L283.5 170.3 L287.4 170.2 L291.3 170.1 L295.2 169.9 L299.1 169.8 L303.1 169.7 L307.0 169.6 L310.9 169.5 L314.8 169.4 L318.7 169.3 L322.6 169.2 L326.6 169.1 L330.5 169.1 L334.4 169.0 L338.3 168.9 L342.2 168.9 L346.1 168.8 L350.0 168.8 L354.0 168.7 L357.9 168.7 L361.8 168.7 L365.7 168.7 L369.6 168.7 L373.5 168.7 L377.5 168.7 L381.4 168.7 L385.3 168.7 L389.2 168.7 L393.1 168.7 L397.0 168.7 L401.0 168.8 L404.9 168.8 L408.8 168.9 L412.7 168.9 L416.6 169.0 L420.5 169.1 L424.4 169.1 L428.4 169.2 L432.3 169.3 L436.2 169.4 L440.1 169.5 L444.0 169.6 L447.9 169.7 L451.9 169.8 L455.8 169.9 L459.7 170.1 L463.6 170.2 L467.5 170.3 L471.4 170.5 L475.3 170.6 L479.3 170.8 L483.2 171.0 L487.1 171.1 L491.0 171.3 L494.9 171.5 L498.8 171.7 L502.8 171.9 L506.7 172.1 L510.6 172.3 L514.5 172.5 L518.4 172.7 L522.3 172.9 L526.3 173.2 L530.1 173.4 L533.5 173.7 L536.8 173.9 L540.0 174.2 L543.2 174.6 L546.3 174.9 L549.3 175.3 L552.3 175.7 L555.2 176.2 L558.0 176.7 L560.8 177.2 L563.5 177.8 L566.1 178.4 L568.6 179.0 L571.1 179.7 L573.4 180.4 L575.7 181.2 L578.0 182.0 L580.1 182.8 L582.2 183.7 L584.2 184.6 L586.1 185.6 L587.9 186.6 L589.7 187.6 L591.3 188.6 L593.0 189.7 L594.5 190.7 L596.0 191.8 L597.5 192.9 L598.9 194.0 L600.3 195.2 L601.7 196.3 L603.0 197.5 L604.3 198.7 L605.7 199.9 L607.0 201.2 L608.3 202.5 L609.7 203.9 L611.0 205.4 L612.2 207.0 L613.5 208.7 L614.7 210.4 L615.9 212.3 L617.1 214.3 L618.2 216.4 L619.2 218.7 L620.2 221.0 L621.1 223.5 L621.9 226.1 L622.6 228.8 L623.3 231.6 L623.9 234.5 L624.5 237.5 L624.9 240.7 L625.3 244.0 L625.6 247.3 L625.9 250.8 L626.1 254.4 L626.2 258.2 L626.2 262.0 L626.2 671.0 L626.2 1080.0 L626.1 1085.0 L626.0 1089.8 L625.7 1094.5 L625.2 1098.9 L624.7 1103.1 L624.0 1107.2 L623.3 1111.0 L622.4 1114.7 L621.4 1118.2 L620.3 1121.5 L619.1 1124.6 L617.8 1127.5 L616.4 1130.3 L614.9 1132.8 L613.4 1135.2 L611.8 1137.5 L610.2 1139.6 L608.6 1141.5 L606.9 1143.3 L605.2 1145.1 L603.4 1146.7 L601.7 1148.3 L599.9 1149.8 L598.1 1151.3 L596.3 1152.7 L594.3 1154.1 L592.4 1155.4 L590.3 1156.7 L588.2 1158.0 L586.0 1159.2 L583.7 1160.3 L581.4 1161.5 L578.9 1162.5 L576.3 1163.5 L573.7 1164.5 L571.0 1165.4 L568.2 1166.3 L565.3 1167.1 L562.3 1167.8 L559.2 1168.6 L556.1 1169.2 L552.9 1169.9 L549.6 1170.5 L546.3 1171.0 L542.9 1171.5 L539.4 1172.0 L535.9 1172.5 L532.3 1173.0 L528.6 1173.4 L524.9 1173.8 L521.2 1174.2 L517.4 1174.6 L513.5 1175.0 L509.6 1175.4 L505.7 1175.8 L501.7 1176.2 L497.7 1176.6 L493.6 1177.1 L489.5 1177.5 L486.6 1177.8 L483.7 1178.1 L480.8 1178.4 L478.0 1178.7 L475.1 1179.0 L472.2 1179.3 L469.3 1179.6 L466.4 1179.8 L463.5 1180.1 L460.6 1180.3 L457.8 1180.6 L454.9 1180.8 L452.0 1181.0 L449.1 1181.2 L446.2 1181.4 L443.3 1181.6 L440.4 1181.8 L437.6 1182.0 L434.7 1182.2 L431.8 1182.3 L428.9 1182.5 L426.0 1182.6 L423.1 1182.8 L420.2 1182.9 L417.3 1183.0 L414.5 1183.2 L411.6 1183.3 L408.7 1183.4 L405.8 1183.4 L402.9 1183.5 L400.0 1183.6 L397.1 1183.7 L394.3 1183.7 L391.4 1183.8 L388.5 1183.8 L385.6 1183.8 L382.7 1183.9 L379.8 1183.9 L376.9 1183.9 L374.1 1183.9 L371.2 1183.9 L368.3 1183.9 L365.4 1183.8 L362.5 1183.8 L359.6 1183.8 L356.7 1183.7 L353.9 1183.7 L351.0 1183.6 L348.1 1183.5 L345.2 1183.4 L342.3 1183.4 L339.4 1183.3 L336.5 1183.2 L333.7 1183.0 L330.8 1182.9 L327.9 1182.8 L325.0 1182.6 L322.1 1182.5 L319.2 1182.3 L316.3 1182.2 L313.4 1182.0 L310.6 1181.8 L307.7 1181.6 L304.8 1181.4 L301.9 1181.2 L299.0 1181.0 L296.1 1180.8 L293.2 1180.6 L290.4 1180.3 L287.5 1180.1 L284.6 1179.8 L281.7 1179.6 L278.8 1179.3 L275.9 1179.0 L273.0 1178.7 L270.2 1178.4 L267.3 1178.1 L264.4 1177.8 L261.5 1177.5 L257.4 1177.1 L253.3 1176.6 L249.3 1176.2 L245.3 1175.8 L241.4 1175.4 L237.5 1175.0 L233.6 1174.6 L229.8 1174.2 L226.1 1173.8 L222.4 1173.4 L218.7 1173.0 L215.1 1172.5 L211.6 1172.0 L208.1 1171.5 L204.7 1171.0 L201.4 1170.5 L198.1 1169.9 L194.9 1169.2 L191.8 1168.6 L188.7 1167.8 L185.7 1167.1 L182.8 1166.3 L180.0 1165.4 L177.3 1164.5 L174.7 1163.5 L172.1 1162.5 L169.6 1161.5 L167.3 1160.3 L165.0 1159.2 L162.8 1158.0 L160.7 1156.7 L158.6 1155.4 L156.7 1154.1 L154.7 1152.7 L152.9 1151.3 L151.1 1149.8 L149.3 1148.3 L147.6 1146.7 L145.8 1145.1 L144.1 1143.3 L142.4 1141.5 L140.8 1139.6 L139.2 1137.5 L137.6 1135.2 L136.1 1132.8 L134.6 1130.3 L133.2 1127.5 L131.9 1124.6 L130.7 1121.5 L129.6 1118.2 L128.6 1114.7 L127.7 1111.0 L127.0 1107.2 L126.3 1103.1 L125.8 1098.9 L125.3 1094.5 L125.0 1089.8 L124.9 1085.0 L124.8 1080.0 L124.8 671.0Z" fill="url(#glass)"/>
  <rect x="124" y="160" width="360" height="140" fill="#2e2e2e" style="mix-blend-mode:lighten" clip-path="url(#gclip)"/>
  <g clip-path="url(#gclip)">
    <path d="M700 150 L470 150 L462 167.5 C434 171 408 176 395.5 186 C390 191.5 386 196 383 201 C372 222 356 252 346 286 L236 1088 L236 1220 L700 1220 Z" fill="#000"/>
  </g>
  <!-- speaker -->
  <rect x="313.5" y="200" width="121" height="13.5" rx="6.75" fill="#0c0c0c"/>
  <rect x="315.3" y="201.8" width="117.4" height="9.8" rx="4.9" fill="#1c1c1c" stroke="url(#spk)" stroke-width="1"/>
  <g fill="#4a4a4a"><circle cx="325.5" cy="208.6" r="1.1"/><circle cx="331.2" cy="208.6" r="1.1"/><circle cx="336.9" cy="208.6" r="1.1"/><circle cx="342.6" cy="208.6" r="1.1"/><circle cx="348.3" cy="208.6" r="1.1"/><circle cx="354.1" cy="208.6" r="1.1"/><circle cx="359.8" cy="208.6" r="1.1"/><circle cx="365.5" cy="208.6" r="1.1"/><circle cx="371.2" cy="208.6" r="1.1"/><circle cx="376.9" cy="208.6" r="1.1"/><circle cx="382.7" cy="208.6" r="1.1"/><circle cx="388.4" cy="208.6" r="1.1"/><circle cx="394.1" cy="208.6" r="1.1"/><circle cx="399.8" cy="208.6" r="1.1"/><circle cx="405.5" cy="208.6" r="1.1"/><circle cx="411.3" cy="208.6" r="1.1"/><circle cx="417.0" cy="208.6" r="1.1"/><circle cx="422.7" cy="208.6" r="1.1"/></g>
  <g fill="#020202"><circle cx="322.6" cy="206" r="2"/><circle cx="328.3" cy="206" r="2"/><circle cx="334.0" cy="206" r="2"/><circle cx="339.8" cy="206" r="2"/><circle cx="345.5" cy="206" r="2"/><circle cx="351.2" cy="206" r="2"/><circle cx="356.9" cy="206" r="2"/><circle cx="362.6" cy="206" r="2"/><circle cx="368.4" cy="206" r="2"/><circle cx="374.1" cy="206" r="2"/><circle cx="379.8" cy="206" r="2"/><circle cx="385.5" cy="206" r="2"/><circle cx="391.2" cy="206" r="2"/><circle cx="397.0" cy="206" r="2"/><circle cx="402.7" cy="206" r="2"/><circle cx="408.4" cy="206" r="2"/><circle cx="414.1" cy="206" r="2"/><circle cx="419.8" cy="206" r="2"/><circle cx="425.6" cy="206" r="2"/></g>
  <!-- sensors -->
  <rect x="446" y="203.3" width="21" height="10" rx="5" fill="#222"/>
  <circle cx="452" cy="208.3" r="2.6" fill="#2c2c2c"/><circle cx="461" cy="208.3" r="2.6" fill="#2c2c2c"/>
  <circle cx="483.3" cy="207" r="6.6" fill="#141414"/>
  <circle cx="483.3" cy="207" r="5.3" fill="#2a2a2a"/>
  <circle cx="483.3" cy="207" r="2.5" fill="#242424"/>
  <circle cx="541.5" cy="212.2" r="12" fill="#3c4048"/>
  <circle cx="541.5" cy="212.2" r="11" fill="url(#cam)"/>
  <circle cx="541.8" cy="212" r="3.8" fill="#3b3937"/>
  <circle cx="541.8" cy="212" r="1.7" fill="#2e2c2b"/>
</svg>

<div id="screen">
  <div id="hdr">
    <div class="abs" style="left:18px;top:39px;width:29px;height:2px;background:#fff;"></div>
    <div class="abs" style="left:18px;top:49px;width:22px;height:2px;background:#fff;"></div>
    <div class="abs" style="left:18px;top:59px;width:14.5px;height:2px;background:#fff;"></div>
    <div class="t" id="title" style="left:102.5px;top:40px;font-size:22px;font-weight:bold;color:#fff;transform-origin:0 0;transform:scaleX(0.9026);">Presidential Election 2019</div>
    <svg class="abs" style="left:354px;top:47px;" width="16" height="10" viewBox="0 0 16 10"><path d="M1 1.5 L8 8.5 L15 1.5" fill="none" stroke="#fff" stroke-width="1.5"/></svg>
    <svg class="abs" style="left:403px;top:36px;" width="32" height="30" viewBox="0 0 32 30">
      <g stroke="#fff" stroke-width="1.6" fill="none">
        <line x1="1" y1="4.5" x2="30" y2="4.5"/><line x1="1" y1="14.5" x2="30" y2="14.5"/><line x1="1" y1="24.3" x2="30" y2="24.3"/>
      </g>
      <g stroke="#fff" stroke-width="1.5" fill="#05855d">
        <circle cx="10.5" cy="4.5" r="2.6"/><circle cx="20" cy="14.5" r="2.6"/><circle cx="10.5" cy="24.3" r="2.6"/>
      </g>
    </svg>
  </div>
  <!-- location -->
  <svg class="abs" style="left:127px;top:103px;" width="16" height="20" viewBox="0 0 16 20"><path d="M7.5 17.7 C3.9 13 2 10.3 2 7.2 A5.5 5.5 0 0 1 13 7.2 C13 10.3 11.1 13 7.5 17.7 Z" fill="none" stroke="#7a7a7a" stroke-width="1.3" stroke-linejoin="round"/><circle cx="7.4" cy="6.9" r="1.9" fill="none" stroke="#7a7a7a" stroke-width="1.3"/></svg>
  <div class="t" id="loc" style="left:148.7px;top:104px;font-size:17px;color:#1e1e1e;transform-origin:0 0;transform:scaleX(1.04);">FCT, BWARI, USUMA</div>
  <div class="t" id="addr" style="left:88px;top:134px;font-size:16px;color:#8a8a8a;transform-origin:0 0;transform:scaleX(0.934);">Phase III/RD Junction Opp. Model School</div>
  <!-- donut -->
  <svg class="abs" style="left:0;top:0;overflow:visible;" width="451" height="802">
    <defs><filter id="dsh" x="-20%" y="-20%" width="140%" height="140%"><feGaussianBlur in="SourceAlpha" stdDeviation="8"/><feOffset dy="6"/><feComponentTransfer><feFuncA type="linear" slope="0.15"/></feComponentTransfer><feMerge><feMergeNode/><feMergeNode in="SourceGraphic"/></feMerge></filter></defs>
    <g filter="url(#dsh)">
      <path d="M405.50 375.50 A180 180 0 0 1 256.76 552.77 L243.30 476.44 A102.5 102.5 0 0 0 328.00 375.50 Z" fill="#f6805c"/>
      <path d="M256.76 552.77 A180 180 0 0 1 105.52 241.31 L157.18 299.09 A102.5 102.5 0 0 0 243.30 476.44 Z" fill="#50bbc9"/>
      <path d="M105.52 241.31 A180 180 0 0 1 405.50 375.50 L328.00 375.50 A102.5 102.5 0 0 0 157.18 299.09 Z" fill="#fba53e"/>
    </g>
  </svg>
  <div class="t" id="l112" style="left:270px;top:240.5px;font-size:19px;color:#fff;">112</div>
  <div class="t" id="l80" style="left:325px;top:449.5px;font-size:19px;color:#fff;">80</div>
  <div class="t" id="l120" style="left:91px;top:435px;font-size:19px;color:#fff;">120</div>
  <div class="t" id="pct" style="left:193.5px;top:348px;font-size:36px;color:#111;transform-origin:0 0;transform:scaleX(0.9);">25%</div>
  <div class="t" id="rc" style="left:163.5px;top:389px;font-size:16px;color:#7d7d7d;transform-origin:0 0;transform:scaleX(1.11);">Result collected</div>
  <!-- legend -->
  <div class="abs" style="left:87px;top:600.5px;width:19px;height:19px;border-radius:3px;background:#fba53e;"></div>
  <div class="abs" style="left:185px;top:600.5px;width:19px;height:19px;border-radius:3px;background:#f6805c;"></div>
  <div class="abs" style="left:283px;top:600.5px;width:19px;height:19px;border-radius:3px;background:#50bbc9;"></div>
  <div class="t" id="lg1" style="left:114px;top:601px;font-size:18px;color:#6a6a6a;transform-origin:0 0;transform:scaleX(0.94);">APC</div>
  <div class="t" id="lg2" style="left:211.2px;top:601px;font-size:18px;color:#6a6a6a;">PDP</div>
  <div class="t" id="lg3" style="left:310.5px;top:601px;font-size:18px;color:#6a6a6a;">Others</div>
  <!-- stats -->
  <div class="t" id="s1" style="left:65.5px;top:667.5px;font-size:28.5px;color:#111;">1089</div>
  <div class="t" id="s2" style="left:215px;top:667.5px;font-size:28.5px;color:#111;">357</div>
  <div class="t" id="s3" style="left:344px;top:667.5px;font-size:28.5px;color:#111;">2</div>
  <div class="t" id="r1" style="left:39.5px;top:701px;font-size:15.5px;color:#666;transform-origin:0 0;transform:scaleX(0.943);">Registered Voters</div>
  <div class="t" id="r2" style="left:180.5px;top:701px;font-size:15.5px;color:#666;transform-origin:0 0;transform:scaleX(0.963);">Accredited Voters</div>
  <div class="t" id="r3" style="left:329px;top:701px;font-size:15.5px;color:#666;transform-origin:0 0;transform:scaleX(0.95);">Valid Voters</div>
  <!-- fab -->
  <div class="abs" style="left:359.5px;top:650.5px;width:67px;height:67px;border-radius:50%;background:#ffa102;box-shadow:0 5px 9px rgba(0,0,0,0.28);"></div>
  <div class="abs" style="left:380px;top:683.2px;width:26px;height:1.6px;background:#ffe7b5;"></div>
  <div class="abs" style="left:392.2px;top:670.5px;width:1.6px;height:27px;background:#ffe7b5;"></div>
</div>
</body>
</html>
